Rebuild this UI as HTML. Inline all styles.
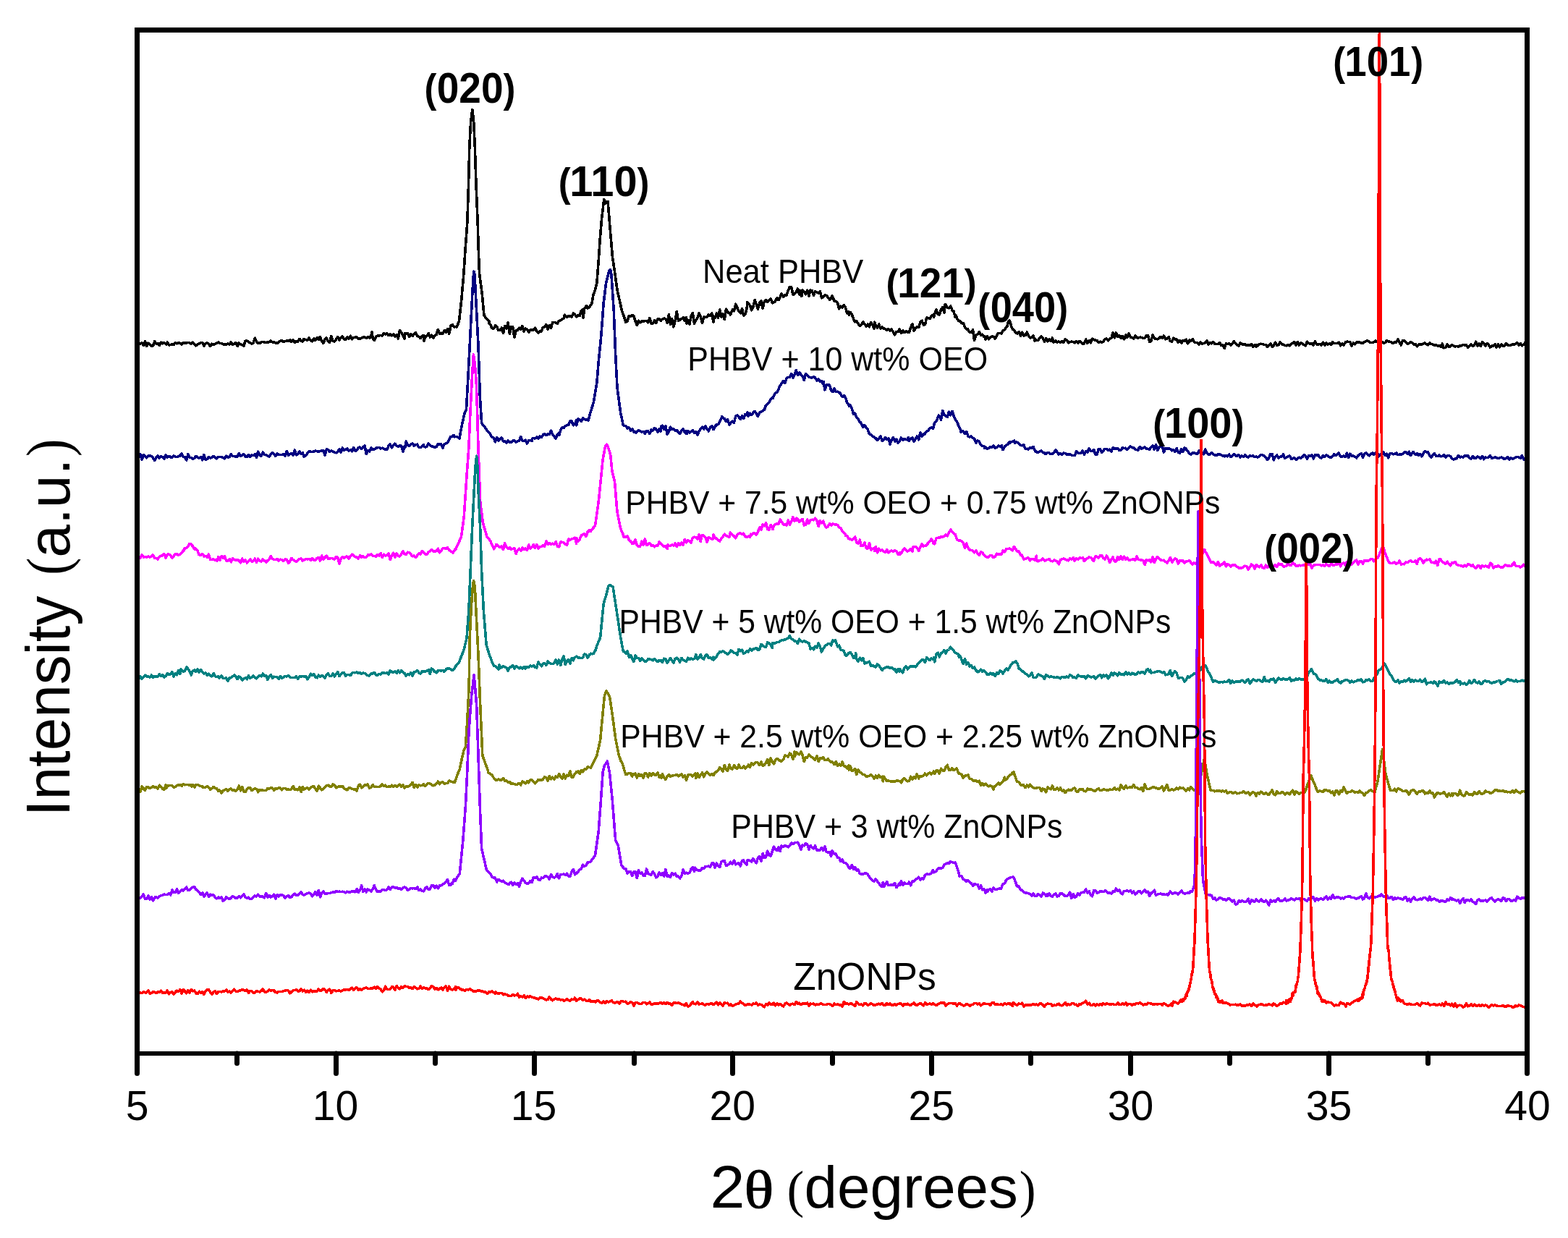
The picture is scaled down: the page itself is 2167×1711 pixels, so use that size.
<!DOCTYPE html>
<html><head><meta charset="utf-8"><title>XRD patterns</title>
<style>
html,body{margin:0;padding:0;background:#fff;}
body{width:2167px;height:1711px;overflow:hidden;}
svg{display:block;}
text{font-family:"Liberation Sans",Arial,sans-serif;}
.s{font-family:"Liberation Serif","Times New Roman",serif;}
.b{font-weight:bold;}
</style></head><body>
<svg width="2167" height="1711" viewBox="0 0 2167 1711">
<rect x="0" y="0" width="2167" height="1711" fill="#fff"/>

<g fill="none" stroke-width="3.6" stroke-linejoin="round" stroke-linecap="butt" shape-rendering="crispEdges">
<path stroke="#000000" d="M189.5,478.8 L191.7,474.9 L193.9,475.0 L196.1,474.0 L198.3,477.3 L200.5,471.8 L202.7,478.6 L204.9,474.3 L207.1,476.1 L209.3,478.4 L211.5,477.9 L213.7,471.9 L215.9,474.8 L218.1,474.6 L220.3,477.2 L222.5,473.3 L224.7,474.8 L226.9,473.6 L229.1,475.1 L230.0,476.0 L231.3,473.1 L233.5,476.9 L235.7,476.5 L237.9,475.9 L240.1,476.5 L242.3,473.8 L244.5,474.8 L246.7,473.4 L248.9,474.5 L251.1,475.9 L253.3,473.8 L255.5,474.3 L257.7,473.8 L259.9,473.6 L262.1,473.9 L264.3,475.0 L266.5,473.1 L268.7,475.4 L270.9,477.8 L273.1,476.3 L275.3,474.7 L277.5,473.5 L279.7,473.7 L281.9,477.9 L284.1,475.1 L286.3,473.9 L288.5,475.3 L290.7,478.6 L292.9,475.2 L295.1,476.0 L297.3,475.5 L299.5,474.4 L301.7,473.1 L303.0,474.4 L306.1,474.5 L308.3,475.8 L310.5,476.2 L312.7,476.3 L314.9,475.1 L317.1,476.1 L319.3,473.1 L321.5,476.6 L323.7,475.2 L325.9,473.7 L328.1,478.6 L330.3,473.9 L332.5,476.0 L334.7,476.6 L336.9,477.8 L339.1,471.2 L341.3,471.0 L343.5,472.6 L345.7,473.8 L347.9,475.1 L350.1,473.9 L352.3,467.2 L354.5,472.6 L356.7,474.7 L358.9,473.5 L360.0,474.4 L361.1,472.5 L363.3,472.5 L365.5,473.1 L367.7,473.5 L369.9,473.0 L372.1,472.7 L374.3,471.1 L376.5,473.0 L378.7,472.4 L380.9,474.3 L383.1,474.4 L385.3,472.3 L387.5,471.1 L389.7,470.4 L391.9,472.5 L394.1,471.7 L396.3,470.7 L398.5,471.4 L400.7,470.0 L402.9,472.6 L405.1,470.1 L407.3,473.5 L409.5,471.7 L411.7,472.0 L413.9,468.4 L416.1,470.9 L418.3,472.0 L420.0,468.4 L422.7,469.7 L424.9,470.2 L427.1,467.1 L429.3,470.6 L431.5,471.7 L433.7,467.9 L435.9,470.4 L438.1,466.6 L440.3,469.3 L442.5,465.7 L444.7,471.7 L446.9,474.4 L449.1,468.9 L451.3,467.1 L453.5,471.7 L455.7,473.2 L457.9,464.3 L460.1,471.3 L462.3,472.1 L464.5,469.0 L466.7,465.4 L468.9,470.1 L470.0,467.6 L471.1,466.5 L473.3,464.9 L475.5,468.9 L477.7,469.3 L479.9,465.8 L482.1,468.4 L484.3,464.3 L486.5,468.8 L488.7,466.8 L490.9,466.1 L493.1,466.2 L495.3,468.4 L497.5,468.0 L499.7,467.3 L501.9,466.2 L504.1,465.9 L506.3,467.1 L508.5,466.0 L510.7,466.9 L512.9,464.3 L514.0,458.8 L515.1,467.6 L517.3,470.3 L519.5,465.7 L521.7,464.1 L523.9,463.8 L526.1,463.6 L528.3,463.8 L530.5,460.6 L532.7,462.0 L534.9,460.5 L537.1,463.7 L539.3,462.0 L541.5,463.9 L543.7,461.9 L545.9,464.9 L548.1,462.6 L550.3,467.9 L552.5,456.4 L554.7,459.7 L556.9,463.8 L559.1,468.1 L560.0,460.3 L561.3,461.3 L563.5,460.9 L565.7,465.5 L567.9,461.4 L570.1,464.4 L572.3,462.0 L574.5,459.9 L576.7,464.4 L578.9,465.2 L581.1,467.6 L583.3,464.3 L585.5,463.4 L586.0,471.3 L587.7,465.2 L589.9,464.7 L592.1,460.5 L594.3,466.0 L596.5,463.4 L598.7,467.0 L600.9,464.3 L603.1,462.5 L605.3,455.6 L607.5,461.3 L609.7,460.3 L610.0,461.3 L611.9,461.3 L614.1,456.5 L616.3,459.3 L618.5,454.5 L620.7,461.3 L622.9,450.6 L625.1,448.5 L627.3,451.6 L628.0,452.1 L629.5,451.4 L631.0,452.2 L633.9,445.5 L634.5,443.9 L636.1,429.5 L637.9,413.0 L640.5,382.6 L640.9,378.0 L642.7,350.6 L643.2,343.0 L644.9,320.1 L645.8,307.9 L647.1,267.7 L647.5,255.3 L648.8,202.6 L650.5,170.0 L651.5,162.1 L652.8,151.8 L654.5,165.0 L655.9,194.2 L656.3,202.6 L658.0,255.3 L660.2,307.9 L661.2,343.0 L662.5,378.0 L664.7,394.4 L666.0,404.0 L669.0,435.9 L671.3,439.2 L673.5,441.5 L675.7,443.4 L676.0,447.1 L677.9,449.2 L680.0,453.6 L682.3,454.1 L684.5,449.7 L686.7,451.6 L688.9,456.6 L691.1,456.5 L693.3,453.2 L695.5,460.5 L697.7,450.7 L699.9,453.9 L700.0,454.3 L702.1,446.2 L704.3,461.2 L706.5,451.4 L708.7,451.8 L710.9,466.2 L713.1,457.0 L715.3,456.5 L717.5,453.3 L719.7,455.5 L721.9,450.4 L724.1,457.8 L726.3,454.1 L728.5,455.7 L730.7,459.1 L732.9,456.2 L735.1,456.2 L737.3,456.2 L739.5,453.1 L741.7,458.1 L743.9,460.3 L746.1,457.6 L748.3,457.9 L750.0,453.1 L752.7,451.6 L754.9,448.6 L757.1,455.3 L759.3,449.7 L761.5,453.6 L763.7,445.6 L765.9,445.5 L768.1,446.0 L770.3,447.5 L772.5,443.5 L774.7,442.8 L776.9,441.0 L779.1,440.3 L780.4,435.1 L783.5,438.4 L785.7,436.8 L787.9,436.7 L790.1,438.3 L792.3,433.0 L794.5,434.8 L796.7,437.8 L798.9,435.6 L801.1,436.5 L803.3,429.5 L805.5,427.7 L806.0,438.9 L807.7,427.0 L809.9,423.1 L811.0,423.0 L812.1,426.1 L814.3,424.8 L816.5,421.4 L817.9,419.5 L820.0,407.2 L822.1,401.8 L823.1,398.0 L824.8,391.3 L826.9,365.0 L829.0,333.3 L831.6,301.7 L834.1,281.1 L834.8,275.3 L836.3,278.5 L837.5,281.0 L838.5,279.9 L840.0,278.4 L841.1,291.0 L842.9,313.0 L843.7,322.6 L845.1,339.2 L846.4,354.5 L849.5,375.5 L851.7,391.4 L853.2,401.8 L856.1,414.4 L856.9,417.7 L858.3,424.6 L859.6,429.9 L862.7,438.4 L864.8,445.3 L867.1,443.6 L869.3,436.7 L871.5,437.3 L873.7,435.4 L875.9,437.0 L878.0,443.5 L880.3,449.6 L882.5,443.1 L884.7,445.8 L886.9,444.1 L889.1,444.4 L891.3,443.6 L893.5,443.5 L895.7,445.7 L897.9,439.5 L900.1,447.6 L902.3,447.1 L904.5,442.8 L906.7,446.4 L908.9,440.6 L911.1,441.1 L913.3,443.6 L914.0,442.3 L915.5,441.2 L917.7,440.1 L919.9,440.4 L922.1,445.9 L924.3,434.7 L926.5,448.1 L928.7,440.8 L930.9,451.8 L933.1,443.4 L935.3,430.4 L937.5,443.3 L939.7,442.1 L941.9,440.7 L944.1,438.6 L946.3,443.6 L948.5,438.4 L949.0,447.2 L950.7,442.1 L952.9,448.2 L955.1,436.6 L957.3,432.7 L959.5,447.3 L961.7,442.8 L963.9,439.5 L966.1,433.1 L968.3,437.4 L970.5,446.4 L972.7,438.2 L974.9,438.4 L977.1,438.1 L979.3,435.0 L981.5,436.5 L983.7,433.1 L985.9,445.1 L986.0,436.6 L988.1,439.5 L990.3,432.9 L992.5,439.2 L994.7,428.0 L996.9,438.2 L999.1,433.7 L1001.3,441.4 L1003.5,427.1 L1005.7,431.8 L1007.9,432.2 L1009.4,435.1 L1012.3,428.1 L1014.5,429.8 L1016.7,420.2 L1018.9,425.3 L1021.1,430.3 L1023.3,432.7 L1025.5,426.6 L1027.7,436.0 L1029.9,434.0 L1032.1,426.6 L1032.8,417.3 L1034.3,419.1 L1036.5,422.2 L1038.7,428.7 L1040.9,424.6 L1043.1,414.3 L1045.3,420.7 L1047.5,427.1 L1049.7,418.4 L1051.9,416.0 L1054.1,426.1 L1056.0,417.5 L1058.5,414.7 L1060.7,417.3 L1062.9,415.3 L1065.1,412.9 L1067.3,418.8 L1069.5,417.8 L1071.7,416.1 L1073.9,411.6 L1076.1,414.7 L1078.3,410.6 L1079.7,406.0 L1082.7,410.3 L1084.9,407.5 L1087.1,408.1 L1089.0,402.3 L1091.5,396.4 L1093.7,396.7 L1095.9,407.4 L1098.1,406.0 L1100.3,403.9 L1102.5,399.0 L1104.7,407.0 L1106.9,401.5 L1107.8,409.3 L1109.1,401.1 L1111.3,403.2 L1113.5,406.7 L1115.7,401.2 L1117.9,409.1 L1120.1,401.0 L1122.3,401.6 L1124.5,408.3 L1126.5,403.0 L1128.9,403.6 L1131.1,405.1 L1133.3,402.8 L1135.5,411.7 L1137.7,410.4 L1139.9,408.0 L1142.1,408.3 L1144.3,411.0 L1146.5,414.1 L1148.7,412.3 L1150.0,409.0 L1153.1,416.0 L1155.3,416.4 L1157.5,418.8 L1159.7,426.8 L1161.6,423.2 L1164.1,425.1 L1166.3,421.6 L1168.5,425.2 L1170.7,433.0 L1172.9,431.0 L1173.4,435.4 L1175.1,431.4 L1177.3,434.3 L1179.5,440.6 L1181.7,444.8 L1183.9,443.8 L1186.1,447.3 L1188.3,450.4 L1189.7,449.6 L1192.7,445.0 L1194.9,447.8 L1197.1,451.0 L1199.3,448.2 L1201.5,451.7 L1203.7,445.8 L1205.9,448.9 L1208.1,454.0 L1208.5,445.3 L1210.3,449.2 L1212.5,453.1 L1214.7,448.1 L1216.9,454.2 L1219.1,452.0 L1221.3,454.0 L1223.5,454.5 L1225.7,456.4 L1227.9,454.5 L1230.1,456.9 L1232.0,455.2 L1234.5,459.0 L1236.7,462.7 L1238.9,458.5 L1241.1,458.6 L1243.3,455.0 L1245.5,460.6 L1247.7,456.9 L1248.0,456.8 L1249.9,459.6 L1252.1,457.6 L1254.3,459.2 L1256.5,459.1 L1258.7,452.3 L1260.9,447.6 L1263.1,456.9 L1265.3,453.6 L1267.0,452.1 L1269.7,452.4 L1271.9,445.2 L1274.1,443.3 L1276.3,449.0 L1278.5,448.4 L1280.7,439.1 L1282.9,439.6 L1285.1,440.5 L1287.3,436.8 L1289.5,435.2 L1290.4,438.4 L1291.7,434.1 L1293.9,427.7 L1296.1,434.4 L1298.3,434.9 L1300.5,428.1 L1302.7,424.4 L1304.9,432.0 L1306.0,420.5 L1307.1,421.5 L1309.3,425.1 L1311.5,425.9 L1312.7,425.2 L1313.7,422.9 L1315.9,428.6 L1318.1,430.5 L1320.3,438.7 L1321.0,436.1 L1322.5,439.7 L1324.7,443.7 L1326.9,443.8 L1329.1,446.7 L1331.3,446.7 L1333.5,451.8 L1335.7,455.1 L1337.3,454.5 L1340.1,459.6 L1342.3,459.5 L1344.5,455.7 L1346.5,470.3 L1348.9,463.0 L1351.1,462.3 L1353.3,458.7 L1355.5,463.1 L1357.7,462.2 L1359.9,465.5 L1360.7,465.0 L1362.1,468.9 L1364.3,464.8 L1366.5,468.9 L1368.7,466.0 L1370.9,465.0 L1373.1,465.3 L1375.3,467.9 L1376.0,467.4 L1377.5,463.4 L1379.7,460.4 L1381.9,460.4 L1384.1,461.1 L1386.3,456.5 L1388.5,455.9 L1390.7,451.9 L1391.8,451.6 L1392.9,446.6 L1395.0,442.5 L1397.3,449.3 L1398.0,451.9 L1399.5,455.4 L1401.7,456.3 L1403.9,460.4 L1404.7,459.4 L1406.1,460.8 L1408.3,458.8 L1410.5,464.4 L1412.7,459.3 L1414.9,464.2 L1417.1,461.9 L1417.7,463.2 L1419.3,458.9 L1421.5,464.3 L1423.7,466.9 L1425.9,466.5 L1428.1,464.2 L1430.3,471.2 L1430.6,468.8 L1432.5,470.5 L1434.7,470.3 L1436.9,467.2 L1439.1,464.7 L1441.3,467.2 L1443.5,472.2 L1445.7,467.5 L1447.9,471.8 L1450.1,469.0 L1452.3,471.4 L1454.5,467.0 L1456.0,473.4 L1458.9,471.1 L1461.1,473.1 L1463.3,471.9 L1465.5,473.2 L1467.7,471.5 L1469.9,473.4 L1472.1,469.0 L1474.3,470.0 L1476.5,473.7 L1478.7,472.4 L1480.9,472.2 L1483.1,472.4 L1485.3,473.8 L1487.5,471.9 L1489.7,474.1 L1491.9,471.6 L1494.1,472.7 L1496.3,475.4 L1498.0,475.6 L1500.7,469.0 L1502.9,474.5 L1505.1,470.6 L1507.3,473.7 L1509.5,468.1 L1511.7,469.3 L1513.9,470.2 L1516.1,470.5 L1518.3,473.5 L1520.5,472.1 L1522.7,473.2 L1524.9,472.1 L1527.1,468.5 L1529.3,468.2 L1531.5,470.8 L1533.7,468.2 L1535.9,467.4 L1538.1,459.6 L1540.3,466.8 L1542.5,460.0 L1544.7,465.2 L1546.9,463.6 L1549.1,467.4 L1550.0,464.3 L1551.3,464.7 L1553.5,468.9 L1555.7,463.0 L1557.9,466.5 L1560.1,461.0 L1562.3,466.0 L1564.5,466.9 L1566.7,468.1 L1568.9,463.8 L1571.1,466.8 L1573.3,466.9 L1575.5,466.1 L1577.7,466.6 L1579.9,467.4 L1582.1,467.3 L1584.3,463.9 L1586.5,463.5 L1588.7,472.6 L1590.9,471.2 L1593.1,463.2 L1595.3,467.7 L1597.0,468.2 L1599.7,468.8 L1601.9,467.6 L1604.1,465.4 L1606.3,467.4 L1608.5,464.0 L1610.7,468.7 L1612.9,468.1 L1615.1,465.6 L1617.3,471.5 L1619.5,472.2 L1621.7,467.2 L1623.9,469.0 L1626.1,468.6 L1628.3,473.1 L1630.5,470.7 L1632.7,474.1 L1634.9,470.4 L1637.1,471.7 L1639.3,469.2 L1641.5,474.7 L1643.7,471.8 L1644.0,469.6 L1645.9,471.5 L1648.1,468.4 L1650.3,472.9 L1652.5,473.4 L1654.7,473.9 L1656.9,476.3 L1659.1,473.1 L1661.3,475.3 L1663.5,474.5 L1665.7,473.8 L1667.9,470.7 L1670.1,476.1 L1672.3,473.8 L1674.5,474.9 L1676.7,472.8 L1678.9,475.6 L1681.1,475.5 L1683.3,475.5 L1685.5,473.5 L1687.7,477.6 L1689.9,477.6 L1690.0,477.2 L1692.1,481.7 L1694.3,475.1 L1696.5,475.5 L1698.7,474.5 L1700.9,477.0 L1703.1,475.1 L1705.3,471.7 L1707.5,474.3 L1709.7,476.5 L1711.9,478.2 L1714.1,473.9 L1716.3,475.5 L1718.5,476.4 L1720.7,475.4 L1722.9,477.6 L1725.1,476.8 L1727.3,477.3 L1729.5,475.6 L1731.7,479.5 L1733.9,476.9 L1736.1,479.2 L1737.0,476.3 L1738.3,478.0 L1740.5,475.8 L1742.7,475.3 L1744.9,475.6 L1747.1,476.7 L1749.3,476.4 L1751.5,479.3 L1753.7,477.5 L1755.9,474.8 L1758.1,479.5 L1760.3,477.6 L1762.5,473.3 L1764.7,477.3 L1766.9,476.8 L1769.1,472.7 L1771.3,475.7 L1773.5,476.2 L1775.7,477.5 L1777.9,477.8 L1780.1,476.3 L1782.3,477.8 L1784.5,475.8 L1786.0,474.5 L1788.9,472.5 L1791.1,476.8 L1793.3,472.5 L1795.5,477.0 L1797.7,473.9 L1799.9,475.1 L1802.1,476.6 L1804.3,477.7 L1806.5,472.3 L1808.7,474.2 L1810.9,475.6 L1813.1,474.5 L1815.3,476.9 L1817.5,471.9 L1819.7,476.0 L1821.9,476.1 L1824.1,475.4 L1826.3,477.1 L1828.5,473.1 L1830.7,477.1 L1832.9,473.9 L1835.1,476.3 L1837.3,474.5 L1839.5,476.4 L1840.0,476.3 L1841.7,472.4 L1843.9,474.6 L1846.1,474.6 L1848.3,474.2 L1850.5,473.2 L1852.7,477.7 L1854.9,474.7 L1857.1,477.0 L1859.3,473.1 L1861.5,472.2 L1863.7,472.4 L1865.9,472.9 L1868.1,478.1 L1870.3,474.1 L1872.5,475.7 L1874.7,473.1 L1876.9,472.8 L1879.1,473.2 L1881.3,473.9 L1883.5,474.7 L1885.7,472.8 L1887.9,471.6 L1890.1,470.8 L1892.3,472.6 L1894.5,473.7 L1896.7,473.4 L1898.9,472.4 L1901.1,471.2 L1903.3,472.5 L1905.5,473.3 L1907.7,472.0 L1909.9,472.2 L1912.1,474.4 L1914.3,473.6 L1916.5,470.8 L1918.7,472.0 L1920.9,472.3 L1923.1,472.9 L1925.0,474.4 L1927.5,472.9 L1929.7,473.0 L1931.9,469.0 L1934.1,473.4 L1936.3,476.9 L1938.5,471.0 L1940.7,470.9 L1942.9,472.6 L1945.1,475.1 L1947.3,474.4 L1949.5,472.8 L1951.7,473.8 L1953.9,475.9 L1956.1,475.5 L1958.3,478.7 L1960.5,476.4 L1962.7,475.5 L1964.9,476.2 L1967.1,474.7 L1969.3,473.9 L1971.5,476.0 L1973.7,476.8 L1975.9,473.8 L1978.1,475.5 L1980.3,476.0 L1982.5,477.3 L1984.7,476.6 L1986.9,478.0 L1989.1,477.6 L1991.3,479.4 L1993.5,475.0 L1995.0,480.8 L1997.9,480.4 L2000.1,476.2 L2002.3,479.0 L2004.5,478.9 L2006.7,476.6 L2008.9,478.1 L2011.1,479.1 L2013.3,478.3 L2015.5,479.5 L2017.7,477.8 L2019.9,477.8 L2022.1,476.3 L2024.3,477.0 L2026.5,476.8 L2028.7,480.4 L2030.9,477.9 L2033.1,475.8 L2035.3,478.1 L2037.5,477.1 L2039.7,472.2 L2041.9,478.1 L2044.1,474.7 L2046.3,478.3 L2048.5,472.9 L2050.7,474.7 L2052.9,478.0 L2055.1,474.6 L2057.3,476.4 L2059.5,480.0 L2061.7,478.1 L2063.9,478.3 L2065.0,476.9 L2066.1,475.5 L2068.3,480.1 L2070.5,475.7 L2072.7,479.7 L2074.9,475.8 L2077.1,478.4 L2079.3,478.2 L2081.5,474.5 L2083.7,476.8 L2085.9,477.4 L2088.1,477.2 L2090.3,475.6 L2092.5,476.3 L2094.7,475.0 L2096.9,473.6 L2099.1,477.2 L2101.3,474.5 L2103.5,477.7 L2105.7,476.2 L2107.9,473.6 L2110.1,474.7 L2110.5,474.5"/>
<path stroke="#000080" d="M189.5,631.2 L191.7,631.9 L193.9,628.0 L196.1,635.0 L198.3,628.7 L200.5,630.4 L202.7,632.9 L204.9,629.7 L207.1,630.0 L209.3,630.3 L211.5,633.0 L213.7,636.3 L215.9,632.1 L218.1,629.9 L220.3,633.0 L222.5,630.9 L224.7,632.0 L226.9,634.2 L229.1,628.7 L231.3,632.0 L233.5,630.4 L235.7,631.7 L237.9,632.5 L240.1,630.2 L242.3,631.4 L244.5,631.6 L246.7,630.8 L248.9,629.8 L251.1,626.7 L253.3,631.7 L255.5,631.5 L257.7,636.1 L259.9,627.5 L262.1,632.2 L264.3,632.7 L266.5,634.5 L268.7,632.9 L270.9,630.4 L273.1,632.0 L275.3,633.0 L277.5,631.4 L279.7,635.8 L281.9,628.5 L284.1,635.2 L286.3,634.7 L288.5,631.4 L290.7,633.1 L292.9,632.1 L295.1,630.5 L297.3,632.2 L299.5,633.9 L301.7,631.3 L303.0,631.3 L306.1,631.7 L308.3,632.5 L310.5,634.0 L312.7,630.3 L314.9,632.3 L317.1,631.7 L319.3,627.7 L321.5,630.3 L323.7,630.7 L325.9,630.8 L328.1,631.3 L330.3,626.7 L332.5,630.6 L334.7,629.1 L336.9,627.5 L339.1,631.2 L341.3,631.4 L343.5,628.7 L345.7,631.4 L347.9,629.0 L350.1,629.7 L352.3,627.4 L354.5,632.4 L356.7,624.1 L358.9,629.0 L361.1,630.4 L363.3,625.0 L365.5,628.4 L367.7,628.5 L369.9,630.2 L372.1,630.9 L374.3,627.6 L376.5,625.5 L378.7,627.6 L380.9,630.4 L383.1,627.0 L385.3,628.5 L387.5,628.4 L389.7,628.7 L391.9,627.8 L394.1,630.1 L396.3,623.8 L398.5,629.2 L400.7,627.7 L402.9,626.4 L405.1,629.1 L407.3,621.9 L409.5,628.9 L411.7,627.2 L413.9,624.0 L416.1,627.1 L418.3,625.5 L420.0,631.2 L422.7,629.5 L424.9,626.6 L427.1,624.1 L429.3,624.2 L431.5,624.6 L433.7,624.0 L435.9,623.1 L438.1,623.6 L440.3,624.1 L442.5,623.5 L444.7,623.0 L446.9,622.4 L449.1,629.4 L451.3,620.9 L453.5,621.7 L455.7,624.6 L457.9,622.9 L460.1,624.3 L462.3,625.0 L464.5,625.8 L466.7,624.6 L468.9,620.8 L471.1,625.1 L473.3,618.9 L475.5,622.2 L477.7,621.3 L479.9,619.9 L482.1,623.3 L484.3,621.5 L486.5,623.9 L488.7,618.4 L490.9,623.3 L493.1,622.4 L495.3,618.5 L497.5,618.0 L499.7,620.4 L501.9,617.4 L504.1,616.1 L506.3,627.6 L508.5,622.5 L510.7,624.1 L512.9,619.1 L514.0,621.5 L515.1,621.4 L517.3,620.9 L519.5,619.3 L521.7,618.6 L523.9,618.5 L526.1,619.9 L528.3,619.2 L530.5,620.5 L532.7,621.0 L534.9,621.3 L537.1,616.2 L539.3,614.1 L541.5,618.8 L543.7,615.3 L545.9,613.3 L548.1,616.1 L550.3,617.3 L552.5,615.9 L554.7,616.2 L556.9,624.2 L559.1,616.4 L560.0,617.9 L561.3,609.9 L563.5,615.5 L565.7,616.5 L567.9,614.0 L570.1,613.0 L572.3,616.1 L574.5,614.6 L576.7,614.1 L578.9,618.2 L581.1,618.7 L583.3,616.5 L585.5,614.9 L586.0,617.2 L587.7,617.9 L589.9,617.4 L592.1,612.7 L594.3,615.2 L596.5,616.8 L598.7,617.4 L600.9,618.2 L603.1,617.7 L605.3,613.4 L607.5,614.4 L609.7,614.0 L611.8,619.0 L614.1,614.2 L616.3,612.8 L618.5,611.6 L620.7,607.2 L622.9,603.6 L625.1,602.9 L627.3,601.4 L628.0,603.8 L629.5,603.7 L631.7,603.5 L633.9,605.3 L635.0,606.1 L636.1,599.6 L637.5,591.8 L640.5,578.0 L642.2,570.8 L644.5,566.0 L647.1,517.3 L648.0,500.5 L649.3,475.0 L651.5,431.9 L651.6,430.0 L653.7,389.2 L654.0,383.4 L655.0,375.2 L656.0,380.0 L657.4,406.8 L659.8,453.7 L661.0,477.0 L662.5,522.9 L663.3,547.4 L664.7,570.2 L665.6,584.8 L666.9,586.5 L669.1,589.4 L671.3,591.9 L672.7,594.5 L675.7,597.8 L677.9,600.6 L680.1,604.6 L682.0,604.9 L684.5,610.7 L686.7,604.6 L688.9,608.9 L691.1,606.3 L693.3,604.9 L695.5,609.9 L697.7,609.8 L698.4,610.2 L699.9,611.8 L702.1,608.9 L704.3,611.1 L706.5,611.3 L708.7,609.1 L710.9,609.1 L713.1,610.9 L715.3,609.6 L717.5,609.7 L719.7,603.4 L721.9,609.1 L724.1,609.7 L726.3,608.3 L728.5,613.0 L730.7,608.4 L732.9,608.4 L735.1,609.7 L736.0,606.0 L737.3,605.6 L739.5,606.0 L741.7,604.1 L743.9,606.0 L746.1,603.2 L748.3,604.5 L750.5,600.9 L752.7,599.8 L754.9,601.7 L757.1,600.1 L759.3,600.6 L761.5,595.3 L763.7,600.3 L765.9,603.3 L768.1,606.2 L770.3,600.7 L772.5,598.5 L773.0,601.2 L774.7,594.3 L776.9,590.7 L779.1,591.6 L780.4,589.5 L783.5,587.9 L785.7,587.3 L787.9,581.9 L790.1,582.2 L792.3,587.8 L794.5,586.3 L796.7,580.6 L796.8,587.8 L798.9,579.2 L801.1,580.2 L803.3,582.4 L805.5,577.6 L807.7,579.4 L809.9,580.4 L812.1,579.9 L813.0,581.3 L814.3,576.1 L816.5,568.5 L818.7,561.4 L820.2,556.7 L823.1,539.4 L824.9,528.6 L827.2,500.5 L829.7,475.5 L830.7,465.4 L831.9,449.4 L834.1,419.8 L834.2,418.5 L836.3,401.7 L837.7,390.4 L840.7,378.8 L842.0,374.0 L843.6,372.9 L845.0,380.0 L846.0,395.0 L847.3,414.9 L848.3,430.3 L849.5,460.8 L850.6,488.8 L851.7,510.3 L853.0,535.6 L856.1,558.8 L857.7,570.8 L860.5,583.8 L861.2,587.4 L862.7,588.2 L864.9,588.7 L867.1,592.2 L869.3,590.9 L871.5,595.4 L873.7,592.9 L875.9,596.9 L878.1,596.6 L878.7,597.9 L880.3,596.2 L882.5,595.0 L884.7,595.9 L886.9,597.1 L889.1,596.3 L891.3,599.2 L893.5,595.7 L895.7,596.0 L897.9,599.7 L900.1,593.9 L902.3,594.9 L904.5,591.5 L906.7,593.0 L908.9,597.1 L911.1,593.1 L913.3,596.0 L914.0,589.0 L915.5,588.2 L917.7,593.2 L919.9,588.9 L922.1,600.3 L924.3,596.7 L926.5,590.1 L928.7,593.4 L930.9,592.5 L933.1,595.5 L935.3,594.5 L937.5,597.5 L939.7,599.2 L941.9,595.0 L944.1,592.7 L946.3,597.7 L948.5,596.0 L949.0,599.6 L950.7,595.8 L952.9,598.1 L955.1,596.4 L957.3,594.7 L959.5,598.2 L961.7,596.4 L963.9,601.0 L966.1,596.1 L968.3,593.1 L970.5,590.1 L972.7,593.0 L974.9,588.8 L977.1,592.9 L979.3,595.9 L981.5,590.4 L983.7,589.1 L985.9,591.4 L986.0,593.6 L988.1,589.6 L990.3,587.0 L992.5,586.5 L994.7,582.6 L996.9,578.3 L997.7,575.6 L999.1,577.3 L1001.3,578.5 L1003.5,582.4 L1005.7,579.8 L1007.9,587.2 L1009.4,585.0 L1012.3,582.2 L1014.5,584.1 L1016.7,575.2 L1018.9,574.2 L1021.1,576.5 L1023.3,579.3 L1025.5,574.6 L1027.7,578.6 L1029.9,572.3 L1032.1,573.7 L1032.8,569.9 L1034.3,575.1 L1036.5,571.2 L1038.7,573.5 L1040.9,570.3 L1043.1,568.5 L1045.3,571.2 L1047.5,575.4 L1049.7,570.2 L1051.6,569.4 L1054.1,567.8 L1056.3,566.5 L1058.5,560.2 L1060.7,557.9 L1062.9,556.0 L1065.1,552.0 L1067.3,549.9 L1068.0,550.6 L1069.5,546.4 L1071.7,543.3 L1073.9,542.0 L1076.1,537.4 L1078.3,532.7 L1080.5,529.6 L1082.7,526.5 L1084.9,529.6 L1087.1,522.8 L1089.0,521.5 L1091.5,521.5 L1093.7,516.5 L1095.9,521.9 L1098.1,517.5 L1100.3,511.8 L1102.5,518.3 L1104.7,515.0 L1106.9,517.5 L1109.1,519.7 L1111.3,525.4 L1113.5,516.6 L1114.8,517.5 L1117.9,521.0 L1120.1,521.8 L1122.3,522.0 L1124.5,520.4 L1126.7,522.1 L1128.9,525.9 L1131.1,524.1 L1133.3,527.0 L1135.5,526.5 L1137.7,531.0 L1138.2,527.3 L1139.9,538.8 L1142.1,532.1 L1144.3,531.6 L1146.5,532.3 L1148.7,539.8 L1150.9,541.7 L1153.1,536.7 L1155.3,541.6 L1157.5,541.2 L1159.7,542.3 L1161.6,544.0 L1164.1,548.6 L1166.3,546.6 L1168.5,549.1 L1170.7,556.6 L1172.9,559.2 L1173.4,561.1 L1175.1,560.1 L1177.3,564.7 L1179.5,572.0 L1181.7,571.3 L1183.9,577.3 L1186.1,579.1 L1188.3,583.2 L1189.7,584.1 L1192.7,590.6 L1194.9,587.4 L1197.1,591.0 L1199.3,593.8 L1201.5,599.9 L1203.7,600.4 L1205.9,603.3 L1208.1,604.2 L1208.5,605.0 L1210.3,605.8 L1212.5,608.1 L1214.7,606.4 L1216.9,602.7 L1219.1,609.5 L1221.3,607.4 L1223.5,604.9 L1225.7,607.6 L1227.9,606.1 L1230.1,613.9 L1232.0,608.5 L1234.5,604.5 L1236.7,610.0 L1238.9,607.3 L1241.1,612.4 L1243.3,609.6 L1245.5,605.0 L1247.7,608.1 L1249.9,606.7 L1252.1,607.6 L1254.3,607.8 L1255.3,604.7 L1256.5,609.3 L1258.7,605.9 L1260.9,605.0 L1263.1,610.4 L1265.3,606.7 L1267.5,603.0 L1269.7,607.9 L1271.9,597.8 L1274.1,603.2 L1276.3,600.0 L1278.5,600.0 L1278.7,598.3 L1280.7,596.7 L1282.9,594.7 L1285.1,592.2 L1287.3,591.1 L1289.5,592.2 L1291.7,584.2 L1293.9,582.6 L1296.1,577.1 L1297.5,574.0 L1300.5,580.3 L1302.7,567.6 L1304.9,573.5 L1307.1,574.8 L1309.3,576.3 L1311.5,569.1 L1313.7,573.8 L1315.9,568.5 L1316.2,568.7 L1318.1,574.8 L1320.3,579.4 L1322.5,583.0 L1324.7,588.1 L1326.9,592.5 L1328.0,596.9 L1329.1,595.5 L1331.3,596.2 L1333.5,599.6 L1335.7,596.4 L1337.9,602.8 L1340.1,604.2 L1342.3,603.1 L1344.5,605.1 L1346.7,606.6 L1348.9,612.3 L1349.0,610.0 L1351.1,608.7 L1353.3,610.5 L1355.5,614.4 L1357.7,616.3 L1359.9,616.7 L1360.7,619.2 L1362.1,618.2 L1364.3,620.2 L1366.5,619.2 L1368.7,617.8 L1370.9,618.1 L1373.1,615.7 L1375.3,619.4 L1377.5,618.1 L1379.7,616.1 L1381.9,617.1 L1384.1,615.6 L1386.0,621.7 L1388.5,616.6 L1390.7,615.5 L1392.9,614.1 L1395.1,610.8 L1396.0,612.0 L1397.3,610.6 L1399.5,610.4 L1401.7,609.1 L1402.4,612.1 L1403.9,611.1 L1406.1,611.4 L1408.3,613.4 L1410.0,615.1 L1412.7,615.9 L1414.9,614.8 L1417.1,620.6 L1419.3,620.2 L1421.0,620.8 L1423.7,618.5 L1425.9,619.1 L1428.1,617.4 L1430.3,622.9 L1432.5,624.9 L1434.7,625.2 L1436.9,624.3 L1439.1,622.7 L1441.3,625.3 L1443.5,625.8 L1444.5,627.4 L1445.7,627.5 L1447.9,625.5 L1450.1,626.0 L1452.3,627.6 L1454.5,627.1 L1456.7,625.9 L1458.9,621.9 L1461.1,625.0 L1463.3,628.1 L1465.5,626.7 L1467.7,628.4 L1469.9,625.8 L1472.1,626.7 L1474.3,628.2 L1476.5,628.1 L1478.7,627.5 L1480.9,629.0 L1483.1,629.5 L1485.3,629.7 L1487.5,623.7 L1489.7,626.0 L1491.4,626.4 L1494.1,625.8 L1496.3,622.9 L1498.5,628.4 L1500.7,623.4 L1502.9,625.3 L1505.1,619.8 L1507.3,623.3 L1509.5,623.5 L1511.7,621.7 L1513.9,628.2 L1516.1,627.9 L1518.3,620.7 L1520.5,620.4 L1522.7,625.5 L1524.9,622.7 L1526.5,620.5 L1529.3,620.5 L1531.5,622.5 L1533.7,621.3 L1535.9,624.1 L1538.1,618.7 L1540.3,620.1 L1542.5,619.7 L1544.7,619.8 L1546.9,622.5 L1549.1,621.9 L1551.3,618.6 L1553.5,619.7 L1555.7,619.3 L1557.9,621.6 L1560.1,619.2 L1562.3,617.0 L1564.5,618.6 L1566.7,619.1 L1568.9,621.1 L1571.1,621.8 L1573.3,621.8 L1573.4,619.7 L1575.5,617.9 L1577.7,620.4 L1579.9,618.8 L1582.1,618.0 L1584.3,620.1 L1586.5,620.4 L1588.7,621.5 L1590.9,617.8 L1593.1,616.2 L1595.3,621.1 L1597.5,614.7 L1599.7,622.3 L1601.9,617.9 L1604.1,616.8 L1606.3,616.6 L1608.5,625.0 L1610.7,619.7 L1612.9,620.6 L1615.1,619.8 L1617.3,620.5 L1619.5,622.9 L1620.2,621.4 L1621.7,621.4 L1623.9,624.4 L1626.1,619.5 L1628.3,625.1 L1630.5,626.5 L1632.7,620.8 L1634.9,624.6 L1637.1,618.7 L1639.3,620.7 L1641.5,623.7 L1643.7,626.9 L1645.9,627.8 L1648.1,626.0 L1650.3,625.5 L1652.5,626.8 L1654.7,626.8 L1655.3,627.0 L1656.9,623.1 L1659.1,625.9 L1661.3,625.0 L1663.5,627.8 L1664.7,624.7 L1665.7,621.0 L1667.9,626.1 L1670.1,628.1 L1672.0,627.9 L1674.5,625.8 L1676.7,627.7 L1678.9,628.8 L1681.1,629.5 L1683.3,628.0 L1685.5,627.7 L1687.7,629.0 L1689.9,629.7 L1692.1,630.8 L1694.3,629.3 L1696.5,630.7 L1698.7,628.1 L1700.9,631.6 L1703.1,630.0 L1705.3,627.6 L1707.5,629.8 L1709.7,630.6 L1711.9,628.5 L1713.9,631.9 L1716.3,630.0 L1718.5,631.5 L1720.7,628.8 L1722.9,631.3 L1725.1,632.1 L1727.3,629.9 L1729.5,630.5 L1731.7,629.8 L1733.9,631.5 L1736.1,631.0 L1738.3,631.9 L1740.5,630.9 L1742.7,628.6 L1744.9,628.6 L1747.1,630.3 L1749.3,632.0 L1751.5,635.4 L1753.7,632.9 L1755.9,627.3 L1758.1,627.5 L1760.3,635.8 L1762.5,631.4 L1764.7,629.1 L1766.9,633.1 L1769.1,631.5 L1771.3,630.7 L1773.5,627.9 L1775.7,633.4 L1777.9,631.8 L1780.1,631.2 L1782.3,629.9 L1784.5,634.1 L1786.0,634.1 L1788.9,632.7 L1791.1,635.4 L1793.3,633.6 L1795.5,632.2 L1797.7,633.1 L1799.9,631.7 L1802.1,628.6 L1804.3,630.1 L1806.5,634.4 L1808.7,629.4 L1810.9,630.1 L1813.1,628.7 L1815.3,634.1 L1817.5,628.4 L1819.7,628.9 L1821.9,629.1 L1824.1,632.5 L1826.3,632.8 L1828.5,629.5 L1830.7,631.6 L1832.9,628.8 L1835.1,630.4 L1837.3,631.8 L1839.5,632.1 L1841.7,630.1 L1843.9,627.6 L1846.1,629.5 L1848.3,627.5 L1850.0,625.8 L1852.7,631.0 L1854.9,630.9 L1857.1,630.1 L1859.3,631.6 L1861.5,626.3 L1863.7,632.2 L1865.9,627.3 L1868.1,630.0 L1870.3,630.1 L1872.5,631.2 L1874.7,632.9 L1876.9,629.6 L1879.1,628.1 L1881.3,626.6 L1883.5,632.1 L1885.7,627.0 L1887.9,625.9 L1890.1,628.0 L1892.3,629.7 L1894.5,627.7 L1896.7,626.1 L1898.9,628.4 L1901.1,625.6 L1903.3,624.9 L1905.5,630.7 L1907.7,628.2 L1909.9,628.1 L1912.1,624.7 L1914.3,629.6 L1916.5,627.1 L1918.7,632.7 L1920.9,626.8 L1923.1,626.3 L1925.3,627.9 L1927.5,627.4 L1929.7,626.0 L1931.9,628.6 L1934.1,628.1 L1936.3,628.4 L1938.5,627.4 L1940.7,625.1 L1942.9,625.0 L1945.1,627.5 L1947.3,624.3 L1949.5,629.6 L1951.7,626.1 L1953.0,624.4 L1956.1,628.4 L1958.3,626.5 L1960.5,629.2 L1962.7,627.5 L1964.9,630.8 L1967.1,626.7 L1969.3,623.4 L1971.5,625.0 L1973.7,625.0 L1975.9,629.6 L1978.1,632.2 L1980.3,628.5 L1982.5,626.6 L1984.7,630.7 L1986.9,630.5 L1989.1,629.1 L1991.3,630.9 L1993.5,630.3 L1995.7,628.4 L1997.9,632.1 L2000.0,630.1 L2002.3,629.3 L2004.5,630.7 L2006.7,634.1 L2008.9,634.9 L2011.1,633.9 L2013.3,633.7 L2015.5,629.5 L2017.7,632.1 L2019.9,631.2 L2022.1,631.9 L2024.3,629.5 L2026.5,630.1 L2028.7,629.8 L2030.9,633.3 L2033.1,633.9 L2035.3,630.7 L2037.5,633.1 L2039.7,633.3 L2041.9,630.8 L2044.1,632.2 L2046.3,633.8 L2048.5,630.4 L2050.7,634.7 L2052.9,632.1 L2055.1,632.6 L2057.3,632.1 L2059.5,629.9 L2061.7,633.3 L2063.9,632.7 L2066.1,632.0 L2068.3,632.5 L2070.5,633.7 L2072.7,632.7 L2074.9,632.1 L2077.1,633.2 L2079.3,634.5 L2081.5,633.3 L2083.7,631.8 L2085.9,634.8 L2088.1,632.9 L2090.3,634.5 L2092.5,633.2 L2094.7,631.9 L2096.9,631.3 L2099.1,632.1 L2101.3,633.3 L2103.5,629.7 L2105.7,634.6 L2107.9,635.9 L2110.1,636.2 L2110.5,632.0"/>
<path stroke="#FF00FF" d="M189.5,774.7 L191.7,771.8 L193.9,770.9 L196.1,766.7 L198.3,769.9 L200.5,769.6 L202.7,770.1 L204.9,768.8 L207.1,769.9 L209.3,768.9 L211.5,767.0 L213.7,771.5 L215.9,771.4 L218.1,773.0 L220.3,769.3 L222.5,768.3 L224.7,767.8 L226.9,765.6 L229.1,770.8 L231.3,766.3 L233.5,766.0 L235.7,767.9 L237.9,771.4 L240.1,768.6 L242.0,765.9 L244.5,765.9 L246.7,767.4 L248.9,766.1 L250.0,765.3 L251.1,763.9 L253.3,761.0 L254.0,761.0 L255.5,757.4 L257.7,757.4 L259.9,755.6 L262.0,751.3 L264.3,752.4 L266.5,755.1 L268.7,759.1 L270.0,757.9 L273.1,761.2 L275.0,766.7 L277.5,767.1 L279.7,765.4 L281.9,768.8 L282.0,768.9 L284.1,768.6 L286.3,770.5 L288.5,766.1 L290.7,773.5 L292.9,773.3 L295.1,773.2 L297.3,774.0 L299.5,774.2 L300.0,775.0 L301.7,769.8 L303.9,774.0 L306.1,768.6 L308.3,771.3 L310.5,768.7 L312.7,774.9 L314.9,775.6 L317.1,772.6 L319.3,776.7 L321.5,771.9 L323.7,773.7 L325.9,773.9 L328.1,773.9 L330.3,774.7 L332.5,777.8 L334.7,772.0 L336.9,776.0 L339.1,774.0 L341.3,778.0 L343.5,775.6 L345.7,772.9 L347.9,776.1 L350.0,775.5 L352.3,772.2 L354.5,777.6 L356.7,772.2 L358.9,775.3 L361.1,776.0 L363.3,773.1 L365.5,775.0 L367.7,777.0 L369.9,774.6 L372.1,772.8 L374.3,768.7 L376.5,772.5 L378.7,773.3 L380.9,773.4 L383.1,772.4 L385.3,775.0 L387.5,773.1 L389.7,774.0 L391.9,775.5 L394.1,772.4 L396.3,773.5 L398.5,778.3 L400.7,775.7 L402.9,771.4 L405.1,773.7 L407.3,775.0 L409.5,776.3 L411.7,774.1 L413.9,772.7 L416.1,772.2 L418.3,774.9 L420.0,774.2 L422.7,772.4 L424.9,772.9 L427.1,772.4 L429.3,774.5 L431.5,771.5 L433.7,773.8 L435.9,774.4 L438.1,771.3 L440.3,770.7 L442.5,775.0 L444.7,768.0 L446.9,772.9 L449.1,770.4 L451.3,768.2 L453.5,772.1 L455.7,772.1 L457.9,771.3 L460.1,771.9 L462.3,773.1 L464.5,769.5 L466.7,770.6 L468.9,778.9 L471.1,772.4 L473.3,769.5 L475.5,771.6 L477.7,769.3 L479.9,769.2 L482.1,771.8 L484.3,768.8 L486.5,766.3 L488.7,767.7 L490.9,769.7 L493.1,769.7 L495.3,771.9 L497.5,767.6 L499.7,770.6 L500.0,769.9 L501.9,768.6 L504.1,770.6 L506.3,769.8 L508.5,766.9 L510.7,767.3 L512.9,765.9 L515.1,768.6 L517.3,768.4 L519.5,769.2 L521.7,766.7 L523.9,768.1 L526.1,764.6 L528.3,770.2 L530.5,766.2 L532.7,768.0 L534.9,767.2 L537.1,764.9 L539.3,773.4 L541.5,767.4 L543.7,764.3 L545.9,770.4 L548.1,765.0 L550.3,768.0 L552.5,769.0 L554.7,765.7 L556.9,761.9 L559.1,765.8 L561.3,766.6 L563.5,763.2 L565.7,764.0 L567.9,766.3 L570.1,768.8 L572.3,767.9 L574.5,770.2 L576.7,767.8 L578.9,765.1 L581.1,765.9 L583.3,761.8 L585.5,764.0 L586.0,763.8 L587.7,766.0 L589.9,766.2 L592.1,762.9 L594.3,762.1 L596.5,759.4 L598.7,761.8 L600.9,761.9 L603.1,761.7 L605.3,758.3 L607.5,763.8 L609.7,761.4 L611.8,757.8 L614.1,757.4 L616.3,758.4 L618.5,756.8 L620.7,760.2 L622.9,761.8 L625.1,762.9 L625.8,764.2 L627.3,761.4 L629.5,758.9 L630.0,758.9 L631.7,754.5 L633.9,749.9 L636.1,745.2 L637.5,741.9 L640.5,719.6 L641.3,713.6 L642.7,692.4 L644.9,659.0 L645.0,657.5 L647.1,629.4 L647.8,620.0 L649.3,584.7 L649.8,573.0 L651.5,539.6 L652.5,520.0 L653.7,501.1 L654.4,490.0 L655.9,500.7 L656.5,505.0 L658.1,526.2 L658.2,527.5 L659.7,573.0 L661.0,620.0 L662.5,660.2 L663.8,695.0 L666.9,718.5 L667.5,723.0 L669.1,728.6 L671.3,736.1 L673.0,742.1 L675.7,744.7 L677.9,747.8 L678.8,750.7 L680.1,752.9 L682.3,757.9 L682.5,758.7 L684.5,755.8 L686.0,752.4 L688.9,755.3 L691.1,756.4 L693.3,755.1 L695.5,759.5 L697.7,750.9 L699.9,755.8 L702.1,758.5 L704.3,756.7 L706.5,759.2 L707.8,758.6 L710.9,758.1 L713.1,765.5 L715.3,760.3 L717.5,758.4 L719.7,761.2 L721.9,757.2 L724.1,759.6 L726.3,757.9 L728.5,760.6 L730.7,753.0 L732.9,757.9 L735.1,756.0 L737.3,752.6 L739.5,757.6 L741.7,752.6 L743.9,758.3 L746.1,755.3 L748.3,755.4 L750.0,753.6 L752.7,755.2 L754.9,748.0 L757.1,752.5 L759.3,750.4 L761.5,752.4 L763.7,751.2 L765.9,752.6 L768.1,748.6 L770.3,755.0 L772.5,755.9 L774.7,749.2 L776.9,749.3 L779.1,749.8 L781.3,752.0 L783.5,753.3 L785.7,745.0 L787.9,746.1 L790.1,744.7 L792.3,744.2 L794.5,743.1 L796.7,751.5 L796.8,743.8 L798.9,748.5 L801.1,745.8 L803.3,739.9 L805.5,738.5 L807.7,738.1 L809.9,741.5 L812.1,735.3 L814.3,732.8 L815.5,734.6 L816.5,734.2 L818.7,730.9 L820.9,728.6 L822.5,726.5 L825.3,707.0 L827.2,693.6 L829.6,670.3 L831.9,647.2 L833.1,634.9 L834.1,629.8 L836.3,617.9 L836.6,616.3 L838.5,614.1 L839.0,614.5 L840.7,619.2 L842.9,626.0 L843.6,628.2 L845.1,642.6 L846.0,651.4 L847.3,656.7 L849.5,665.6 L851.7,692.1 L853.0,707.7 L856.1,723.2 L857.7,730.7 L860.5,736.9 L862.3,742.4 L864.9,742.3 L867.1,740.8 L869.3,746.3 L871.5,747.9 L873.7,751.5 L874.0,749.3 L875.9,751.3 L878.1,745.7 L880.3,753.7 L882.5,755.7 L884.7,755.1 L886.9,748.2 L889.1,753.0 L891.3,744.9 L893.5,753.3 L895.7,752.6 L897.9,750.5 L900.1,754.0 L902.3,753.7 L904.5,755.8 L906.7,754.0 L908.9,754.4 L911.1,749.2 L913.3,751.3 L915.5,753.2 L917.7,755.3 L919.9,754.7 L922.1,758.5 L923.0,752.9 L924.3,754.1 L926.5,754.7 L928.7,753.0 L930.9,754.2 L933.1,751.0 L935.3,755.3 L937.5,750.5 L939.7,753.5 L941.9,750.1 L944.1,753.3 L946.3,745.5 L948.5,749.7 L950.7,746.8 L952.9,747.9 L955.1,749.8 L957.3,743.2 L959.5,742.2 L961.7,742.5 L963.9,745.1 L966.1,739.0 L968.3,748.5 L970.0,739.5 L972.7,740.3 L974.9,742.7 L977.1,749.3 L979.3,742.7 L981.5,743.4 L983.7,744.9 L985.9,744.7 L986.0,738.6 L988.1,743.7 L990.3,744.3 L992.5,746.3 L994.7,748.1 L996.9,743.9 L999.1,741.7 L1001.3,738.3 L1003.5,740.4 L1005.7,741.6 L1007.9,742.2 L1009.4,736.0 L1012.3,739.1 L1014.5,740.9 L1016.7,743.9 L1018.9,739.5 L1021.1,737.3 L1023.3,737.0 L1025.5,738.0 L1027.7,737.3 L1029.9,741.5 L1032.1,742.3 L1034.3,741.2 L1036.5,742.5 L1037.5,738.3 L1038.7,739.9 L1040.9,737.0 L1043.1,737.0 L1045.3,739.1 L1047.5,734.8 L1049.7,729.0 L1051.9,732.2 L1054.1,724.7 L1056.3,726.8 L1058.5,722.7 L1060.7,731.5 L1062.9,732.4 L1065.1,725.5 L1067.3,728.6 L1068.0,731.7 L1069.5,726.2 L1071.7,724.5 L1073.9,723.9 L1076.1,724.0 L1078.3,718.1 L1080.5,721.3 L1082.7,725.0 L1084.9,725.1 L1087.1,726.3 L1089.3,719.1 L1091.5,725.3 L1093.7,721.1 L1095.9,714.4 L1098.1,720.3 L1100.3,716.3 L1100.8,718.9 L1102.5,717.2 L1104.7,721.6 L1106.9,718.9 L1109.1,717.5 L1111.3,726.0 L1113.5,725.3 L1115.7,718.0 L1117.9,723.6 L1120.1,718.7 L1122.3,718.3 L1124.5,718.9 L1126.5,716.3 L1128.9,719.7 L1131.1,727.5 L1133.3,719.6 L1135.5,722.9 L1137.7,720.1 L1139.9,726.2 L1142.1,729.0 L1144.3,727.6 L1146.5,723.7 L1148.7,726.0 L1150.9,724.1 L1153.1,724.7 L1155.3,724.8 L1157.5,725.4 L1159.7,729.0 L1161.6,729.8 L1164.1,733.8 L1166.3,736.5 L1168.5,738.7 L1168.7,740.6 L1170.7,740.4 L1172.9,744.8 L1175.1,744.9 L1177.3,746.3 L1179.5,744.6 L1181.7,742.1 L1183.9,749.7 L1186.1,751.3 L1188.3,745.9 L1189.7,754.2 L1192.7,754.2 L1194.9,750.2 L1197.1,757.7 L1199.3,757.9 L1201.5,750.7 L1203.7,760.0 L1205.9,758.7 L1208.1,757.8 L1208.5,761.3 L1210.3,755.5 L1212.5,763.8 L1214.7,758.3 L1216.9,761.2 L1219.1,759.9 L1221.3,762.1 L1223.5,763.4 L1225.7,759.8 L1227.9,763.7 L1230.1,761.6 L1232.3,761.0 L1234.5,762.3 L1236.7,760.8 L1238.9,761.6 L1241.1,765.8 L1243.3,763.6 L1243.6,766.5 L1245.5,764.5 L1247.7,760.7 L1249.9,758.2 L1252.1,760.4 L1254.3,762.0 L1256.5,760.8 L1258.7,758.5 L1260.9,762.0 L1262.3,755.6 L1265.3,755.4 L1267.5,757.5 L1269.7,761.3 L1271.9,756.3 L1274.1,752.2 L1276.3,754.9 L1278.5,754.2 L1280.7,753.9 L1282.9,749.9 L1285.1,748.0 L1287.3,745.0 L1289.5,749.0 L1290.4,751.4 L1291.7,751.8 L1293.9,744.1 L1296.1,743.3 L1298.3,743.2 L1300.5,741.6 L1302.7,742.1 L1304.9,740.9 L1307.1,739.2 L1309.3,740.7 L1311.5,735.8 L1313.7,733.0 L1313.9,731.9 L1315.9,735.1 L1318.1,737.5 L1320.3,738.5 L1322.5,745.4 L1324.7,747.0 L1325.6,747.0 L1326.9,747.2 L1329.1,747.7 L1331.3,750.1 L1333.5,757.3 L1335.7,751.0 L1337.9,757.2 L1340.1,760.0 L1342.3,760.5 L1344.3,761.2 L1346.7,763.9 L1348.9,760.7 L1351.1,765.0 L1353.3,767.5 L1355.5,762.8 L1357.7,764.0 L1359.9,766.6 L1362.1,769.1 L1364.3,770.4 L1366.5,769.7 L1368.7,767.6 L1370.9,767.4 L1372.4,770.5 L1375.3,769.3 L1377.5,765.3 L1379.7,766.5 L1381.9,765.9 L1384.1,766.2 L1386.0,761.2 L1388.5,763.0 L1390.7,758.3 L1392.9,758.6 L1395.1,758.1 L1397.3,759.3 L1399.5,760.8 L1401.2,755.4 L1403.9,759.0 L1406.1,762.4 L1408.3,761.9 L1410.5,767.4 L1411.8,766.4 L1414.9,772.9 L1417.1,772.5 L1419.3,771.2 L1421.5,771.3 L1423.7,774.7 L1425.9,772.5 L1428.1,772.9 L1430.3,774.4 L1432.5,768.1 L1432.8,774.8 L1434.7,775.9 L1436.9,774.6 L1439.1,774.1 L1441.3,771.9 L1443.5,775.0 L1445.7,774.0 L1447.9,773.6 L1450.1,772.4 L1452.3,775.2 L1454.5,775.9 L1456.7,774.1 L1458.9,775.1 L1461.1,775.9 L1463.3,779.8 L1465.5,773.5 L1467.7,772.6 L1469.9,772.1 L1472.1,772.9 L1474.3,773.9 L1476.5,774.7 L1478.7,771.8 L1480.9,772.9 L1483.1,770.5 L1485.3,775.1 L1487.5,771.6 L1489.7,773.1 L1491.9,770.8 L1494.1,771.6 L1496.3,770.8 L1498.5,775.6 L1500.7,772.8 L1502.9,771.7 L1505.1,770.0 L1507.3,770.6 L1509.5,773.0 L1511.7,775.2 L1513.9,768.7 L1516.1,769.7 L1518.3,771.2 L1520.5,767.8 L1522.7,768.0 L1524.9,771.4 L1527.1,772.9 L1529.3,768.0 L1531.5,771.6 L1533.7,777.2 L1535.9,773.1 L1538.0,770.1 L1540.3,775.9 L1542.5,775.8 L1544.7,769.7 L1546.9,773.5 L1549.1,769.2 L1551.3,773.5 L1553.5,769.2 L1555.7,773.5 L1557.9,770.8 L1560.1,774.4 L1562.3,773.7 L1564.5,773.2 L1566.7,772.5 L1568.9,774.7 L1571.1,769.0 L1573.3,773.6 L1575.5,773.7 L1577.7,774.1 L1579.9,774.7 L1582.1,780.6 L1584.3,773.5 L1586.5,775.0 L1588.7,773.8 L1590.9,776.7 L1593.1,769.6 L1595.3,777.2 L1597.5,772.5 L1599.7,769.5 L1601.9,772.0 L1604.1,773.9 L1606.3,774.7 L1608.5,774.3 L1610.7,776.2 L1612.9,778.2 L1615.1,774.6 L1617.3,770.7 L1619.5,775.9 L1620.0,777.0 L1621.7,774.4 L1623.9,771.8 L1626.1,773.1 L1628.3,779.1 L1630.5,774.9 L1632.7,775.1 L1634.9,775.0 L1637.1,778.1 L1639.3,775.9 L1641.5,775.6 L1643.7,774.7 L1645.9,777.5 L1648.1,779.9 L1650.3,778.1 L1652.5,779.2 L1653.0,778.7 L1654.7,775.9 L1656.9,772.5 L1659.1,768.9 L1661.3,766.3 L1663.5,762.3 L1664.7,759.5 L1665.7,762.0 L1667.9,765.9 L1670.1,770.4 L1672.3,774.3 L1674.0,777.6 L1676.7,776.7 L1678.9,778.9 L1681.1,781.0 L1683.3,776.5 L1685.5,782.2 L1687.7,780.2 L1689.9,779.7 L1692.1,777.2 L1694.3,782.8 L1696.5,779.5 L1698.7,780.7 L1700.9,783.0 L1703.1,780.6 L1705.3,781.0 L1707.5,781.1 L1709.7,783.3 L1711.9,785.0 L1714.0,785.0 L1716.3,784.9 L1718.5,783.5 L1720.7,782.2 L1722.9,782.6 L1725.1,787.3 L1727.3,784.0 L1729.5,780.0 L1731.7,781.5 L1733.9,786.2 L1736.1,780.7 L1738.3,782.3 L1740.5,783.7 L1742.7,780.9 L1744.9,784.7 L1747.1,785.7 L1749.3,781.1 L1751.5,784.5 L1753.7,780.7 L1755.9,780.4 L1758.1,782.5 L1760.3,782.4 L1762.5,780.8 L1764.7,783.3 L1766.9,779.0 L1769.1,780.0 L1771.3,779.5 L1773.5,782.7 L1775.7,782.7 L1777.9,782.3 L1780.1,778.7 L1782.3,781.1 L1784.0,781.6 L1786.7,777.9 L1788.9,779.3 L1791.1,782.0 L1793.3,782.1 L1795.5,781.3 L1797.7,781.8 L1799.9,781.4 L1802.1,781.1 L1804.3,780.6 L1806.5,779.2 L1808.7,780.4 L1810.9,780.1 L1813.1,785.0 L1815.3,781.3 L1817.5,780.8 L1819.7,780.4 L1821.9,780.6 L1824.1,780.3 L1826.3,781.8 L1828.5,780.7 L1830.7,782.3 L1832.9,779.5 L1835.1,781.4 L1837.3,782.4 L1839.5,778.7 L1841.7,781.1 L1843.9,781.2 L1846.1,780.2 L1848.3,779.9 L1850.5,777.5 L1852.7,782.8 L1854.5,779.1 L1857.1,778.2 L1859.3,781.2 L1861.5,776.4 L1863.7,781.1 L1865.9,779.8 L1868.1,779.8 L1870.3,778.1 L1872.5,775.7 L1874.7,774.1 L1876.9,780.1 L1879.1,776.1 L1881.3,775.7 L1883.5,779.3 L1885.7,774.8 L1887.9,775.2 L1890.1,774.8 L1892.0,774.7 L1894.5,772.4 L1896.7,772.7 L1898.9,775.8 L1901.1,773.1 L1903.3,770.6 L1904.0,771.0 L1905.5,768.4 L1907.7,762.5 L1909.9,756.8 L1910.7,755.7 L1912.1,757.4 L1914.3,764.8 L1916.5,769.7 L1918.7,775.5 L1920.0,777.7 L1923.1,778.7 L1925.3,777.7 L1927.5,777.0 L1929.7,779.3 L1931.9,778.0 L1934.1,775.2 L1936.3,780.0 L1938.5,779.5 L1940.7,779.8 L1942.9,777.1 L1945.1,777.5 L1947.3,775.9 L1949.5,774.6 L1951.7,776.5 L1953.9,776.5 L1956.1,774.8 L1958.3,779.4 L1960.5,772.6 L1962.7,771.9 L1964.9,774.1 L1967.1,777.8 L1969.3,774.7 L1971.5,774.4 L1971.6,773.3 L1973.7,773.7 L1975.9,773.0 L1978.1,777.7 L1980.3,777.2 L1982.5,778.1 L1984.7,775.2 L1986.9,781.5 L1989.1,772.3 L1991.3,773.4 L1993.5,776.9 L1995.7,778.0 L1997.9,779.4 L2000.1,776.3 L2002.3,779.6 L2004.5,781.9 L2006.7,777.4 L2008.9,777.9 L2011.1,776.4 L2013.3,780.2 L2015.5,781.5 L2017.7,781.6 L2019.9,782.0 L2022.1,783.3 L2024.3,781.2 L2026.5,782.9 L2028.7,779.8 L2030.9,780.3 L2033.1,782.4 L2035.3,780.8 L2037.5,783.5 L2039.7,785.2 L2041.9,783.7 L2042.0,781.7 L2044.1,781.6 L2046.3,785.3 L2048.5,781.4 L2050.7,782.9 L2052.9,782.2 L2055.1,782.7 L2057.3,784.5 L2059.5,778.3 L2061.7,779.8 L2063.9,784.9 L2066.1,782.6 L2068.3,783.5 L2070.5,782.0 L2072.7,783.4 L2074.9,784.2 L2077.1,784.3 L2079.3,781.3 L2081.5,781.1 L2083.7,782.4 L2085.9,782.0 L2088.1,782.5 L2090.3,780.2 L2092.5,777.2 L2094.7,782.1 L2096.9,782.6 L2099.1,782.3 L2101.3,784.1 L2103.5,782.6 L2105.7,780.3 L2107.9,782.7 L2110.1,780.7 L2110.5,783.1"/>
<path stroke="#008080" d="M189.5,937.6 L191.7,938.2 L193.9,935.1 L196.1,938.1 L198.3,935.7 L200.5,933.3 L202.7,934.8 L204.9,934.7 L207.1,936.2 L209.3,933.1 L211.5,936.3 L213.7,934.6 L215.9,935.4 L218.1,935.0 L220.3,931.8 L222.5,934.5 L224.7,932.4 L226.9,936.3 L229.1,934.5 L230.0,933.1 L231.3,930.8 L233.5,932.2 L235.7,931.9 L237.9,928.6 L240.1,934.9 L242.3,930.7 L244.5,932.8 L246.7,926.5 L248.9,931.7 L250.0,925.2 L251.1,926.5 L253.3,928.7 L255.5,927.4 L257.7,922.0 L259.9,924.4 L262.1,928.3 L264.3,933.0 L266.0,928.0 L268.7,926.0 L270.9,928.7 L273.1,925.1 L275.3,929.1 L277.5,925.7 L279.7,928.9 L280.0,928.7 L281.9,931.2 L284.1,929.8 L286.3,933.4 L288.5,931.4 L290.7,934.1 L292.9,934.8 L295.1,930.5 L297.3,934.8 L299.5,935.5 L301.7,934.8 L303.0,936.9 L306.1,933.9 L308.3,937.6 L310.5,937.5 L312.7,937.0 L314.9,941.2 L317.1,937.1 L319.3,936.5 L321.5,935.0 L323.7,933.1 L325.9,934.5 L328.1,938.7 L330.3,935.0 L332.5,936.5 L334.7,940.0 L336.9,938.4 L339.1,936.6 L341.3,938.7 L343.5,933.7 L345.7,937.5 L347.9,936.0 L350.1,934.2 L352.3,936.8 L354.5,937.7 L356.7,935.2 L358.9,933.7 L361.1,934.8 L363.3,931.2 L365.5,934.6 L367.7,933.6 L369.9,939.6 L372.1,934.6 L374.3,932.7 L376.5,937.3 L378.7,935.2 L380.9,935.6 L383.1,935.9 L385.3,938.3 L387.5,934.7 L389.7,937.3 L391.9,936.4 L394.1,934.4 L396.3,935.0 L398.5,933.5 L400.7,935.8 L402.9,936.7 L405.1,936.5 L407.3,936.4 L409.5,934.9 L411.7,938.2 L413.9,934.7 L416.1,935.1 L418.3,934.4 L420.0,935.2 L422.7,934.4 L424.9,938.7 L427.1,935.5 L429.3,931.3 L431.5,933.6 L433.7,931.6 L435.9,936.0 L438.1,936.8 L440.3,933.1 L442.5,935.1 L444.7,933.4 L446.9,934.5 L449.1,937.0 L451.3,932.8 L453.5,930.9 L455.7,934.7 L457.9,934.2 L460.1,931.2 L462.3,935.0 L464.5,931.5 L466.7,928.8 L468.9,934.7 L471.1,931.7 L473.3,930.0 L475.5,929.9 L477.7,934.5 L479.9,932.4 L482.1,932.6 L484.3,933.6 L486.5,930.4 L488.7,929.4 L490.9,929.8 L493.1,929.2 L495.3,930.7 L497.5,929.4 L499.7,931.2 L501.9,930.0 L504.1,930.7 L506.3,932.1 L508.0,933.6 L510.7,933.8 L512.9,930.8 L515.1,931.0 L517.3,929.4 L519.5,932.5 L521.7,933.6 L523.9,931.5 L526.1,931.9 L528.3,929.6 L530.5,929.9 L532.7,930.5 L534.9,929.3 L537.1,931.9 L539.3,926.9 L541.5,928.5 L543.7,929.7 L545.9,927.7 L548.1,930.6 L550.3,926.6 L552.5,929.8 L554.7,926.7 L556.9,929.3 L559.1,930.6 L561.3,934.1 L563.5,931.7 L565.7,932.8 L567.9,929.5 L570.1,933.8 L572.3,928.8 L574.5,928.7 L576.7,926.5 L578.9,929.6 L581.1,931.3 L583.3,927.7 L585.5,928.2 L586.0,928.0 L587.7,928.2 L589.9,927.4 L592.1,925.6 L594.3,931.2 L596.5,924.0 L598.7,926.0 L600.9,928.5 L603.1,929.8 L605.3,927.0 L607.5,926.6 L609.7,927.2 L611.9,926.3 L614.0,928.5 L616.3,925.1 L618.5,923.5 L620.7,924.0 L622.9,924.7 L625.0,926.6 L627.3,924.7 L629.5,921.8 L630.0,920.5 L631.7,918.4 L633.9,916.6 L635.6,912.3 L638.3,905.3 L640.5,899.8 L641.3,897.0 L642.7,891.3 L644.9,882.4 L645.0,882.0 L647.1,854.1 L647.8,844.8 L649.3,809.8 L650.2,788.8 L651.5,757.0 L652.5,732.5 L653.7,708.3 L655.3,676.0 L657.0,645.0 L658.1,634.7 L658.6,630.0 L660.0,645.0 L661.0,676.0 L662.5,706.3 L663.8,732.5 L665.6,788.8 L666.9,814.8 L668.4,844.8 L671.3,880.6 L672.2,891.7 L673.5,895.8 L675.7,902.9 L676.9,906.8 L677.9,908.7 L680.1,914.9 L682.3,920.0 L682.5,920.0 L684.5,920.5 L686.7,923.0 L688.9,925.3 L690.0,918.7 L691.1,923.3 L693.3,922.1 L695.5,921.0 L697.7,921.9 L699.9,922.9 L702.1,926.8 L704.3,922.6 L706.5,921.5 L708.7,919.6 L710.9,924.1 L713.1,920.6 L715.3,922.0 L717.5,923.8 L719.7,922.3 L721.9,924.3 L724.1,921.7 L726.3,924.0 L726.5,922.0 L728.5,922.2 L730.7,922.2 L732.9,920.1 L735.1,921.2 L737.3,919.5 L739.5,922.3 L741.7,923.0 L743.9,914.9 L746.1,918.1 L748.3,920.8 L750.5,917.3 L752.7,916.4 L754.9,919.4 L757.1,914.1 L759.3,916.4 L761.5,917.3 L763.7,917.5 L765.9,916.4 L768.1,911.7 L770.3,917.9 L772.5,912.1 L773.4,913.6 L774.7,919.3 L776.9,911.8 L779.1,907.0 L781.3,918.6 L783.5,913.8 L785.7,911.6 L787.9,917.0 L790.1,909.4 L792.3,912.7 L794.5,908.6 L796.7,907.3 L798.9,909.0 L801.1,909.1 L803.3,909.6 L805.5,908.8 L807.7,903.9 L809.9,904.5 L812.1,909.2 L814.3,905.2 L816.5,903.1 L818.7,903.8 L820.2,903.5 L823.1,898.4 L824.9,892.3 L827.5,886.2 L829.6,881.0 L831.9,857.7 L834.1,835.1 L834.2,834.2 L836.3,827.2 L837.7,822.6 L840.7,810.3 L841.3,809.6 L842.9,808.4 L843.6,808.5 L845.1,809.8 L847.1,810.9 L849.5,827.0 L850.6,834.2 L851.7,841.4 L853.9,855.5 L854.2,857.6 L856.1,870.3 L857.7,880.9 L860.5,896.2 L861.2,899.9 L862.7,900.8 L864.9,903.2 L867.1,900.0 L869.3,908.1 L871.5,907.4 L871.7,905.4 L873.7,910.1 L875.9,914.5 L878.1,906.0 L880.3,909.2 L882.5,909.5 L884.7,913.3 L886.9,910.2 L889.1,912.1 L891.3,914.6 L893.5,913.5 L895.7,910.8 L897.9,911.0 L900.1,911.6 L902.3,912.9 L904.5,910.7 L906.7,912.9 L908.9,914.7 L911.1,912.4 L913.3,912.6 L914.0,914.5 L915.5,915.6 L917.7,910.2 L919.9,910.8 L922.1,916.2 L924.3,912.7 L926.5,909.8 L928.7,912.6 L930.9,916.0 L933.1,910.3 L935.3,909.2 L937.5,910.8 L939.7,915.2 L941.9,909.3 L944.1,912.1 L946.3,913.0 L948.5,914.5 L950.7,909.2 L952.9,911.5 L955.1,910.0 L957.3,911.4 L959.5,910.1 L960.7,909.4 L961.7,904.7 L963.9,911.0 L966.1,909.3 L968.3,904.6 L970.5,909.9 L972.7,911.0 L974.9,906.0 L977.1,904.6 L979.3,909.2 L981.5,908.8 L983.7,911.0 L985.9,908.3 L986.0,912.1 L988.1,909.9 L990.3,907.2 L992.5,903.5 L994.7,900.7 L995.4,901.6 L996.9,900.9 L999.1,899.7 L1001.3,901.4 L1003.5,902.6 L1005.7,904.2 L1007.9,902.4 L1010.1,899.2 L1012.3,900.2 L1014.5,902.3 L1016.7,902.8 L1018.9,904.8 L1021.0,897.4 L1023.3,899.8 L1025.5,898.1 L1027.7,903.4 L1029.9,902.0 L1032.1,900.2 L1034.3,900.9 L1036.5,896.6 L1038.7,899.0 L1040.9,897.1 L1043.1,896.6 L1045.3,895.5 L1047.0,897.9 L1049.7,897.7 L1051.9,890.3 L1054.1,892.3 L1056.3,893.5 L1058.5,894.4 L1060.7,887.7 L1062.9,889.2 L1065.1,890.5 L1067.3,895.4 L1068.0,888.3 L1069.5,888.9 L1071.7,888.9 L1073.9,887.7 L1076.1,887.4 L1078.3,885.9 L1080.5,884.5 L1082.7,884.8 L1084.9,883.8 L1087.1,883.1 L1089.0,882.4 L1091.5,878.6 L1093.7,883.0 L1095.9,883.5 L1098.1,886.0 L1100.3,886.3 L1102.5,889.4 L1104.7,883.2 L1106.9,885.7 L1109.1,887.3 L1111.3,885.7 L1113.5,887.2 L1114.8,887.3 L1117.9,888.9 L1120.1,897.1 L1122.3,895.7 L1124.5,897.7 L1126.5,893.3 L1128.9,895.2 L1131.1,889.2 L1133.3,894.0 L1135.5,901.0 L1137.7,897.0 L1139.9,893.2 L1142.1,891.5 L1144.3,889.5 L1146.5,889.8 L1148.7,891.9 L1150.9,884.8 L1153.1,886.1 L1154.6,884.6 L1157.5,893.7 L1159.7,891.9 L1161.9,898.1 L1164.0,898.5 L1166.3,899.7 L1168.5,905.9 L1170.7,905.8 L1172.9,902.4 L1175.1,901.5 L1177.3,904.5 L1179.5,909.1 L1181.7,908.8 L1182.7,902.8 L1183.9,911.1 L1186.1,914.0 L1188.3,909.3 L1190.5,912.7 L1192.7,909.4 L1194.9,917.3 L1197.1,916.1 L1199.3,915.5 L1201.5,914.3 L1203.7,920.4 L1205.9,919.3 L1208.1,921.2 L1208.5,920.7 L1210.3,922.1 L1212.5,918.0 L1214.7,920.1 L1216.9,922.9 L1219.1,926.5 L1221.3,923.5 L1223.5,922.9 L1225.7,921.9 L1227.9,922.2 L1230.1,923.5 L1232.3,922.5 L1234.5,924.8 L1236.7,924.9 L1238.9,929.4 L1241.1,925.2 L1243.3,928.0 L1243.6,924.9 L1245.5,927.2 L1247.7,929.7 L1249.9,922.7 L1252.1,920.8 L1254.3,924.9 L1256.5,922.1 L1258.7,920.7 L1260.9,921.6 L1263.1,920.6 L1265.3,921.9 L1267.0,919.7 L1269.7,916.2 L1271.9,914.0 L1274.1,911.5 L1276.3,911.8 L1278.5,915.5 L1280.7,908.7 L1282.9,911.0 L1285.1,912.5 L1287.3,910.0 L1289.5,911.1 L1290.4,908.8 L1291.7,914.7 L1293.9,904.0 L1296.1,902.3 L1298.3,907.9 L1300.5,902.9 L1302.7,901.2 L1304.9,898.5 L1307.1,902.8 L1309.3,898.9 L1311.5,897.5 L1313.7,894.2 L1313.9,895.5 L1315.9,896.6 L1318.1,899.4 L1320.3,902.4 L1322.5,903.0 L1324.7,904.7 L1325.6,908.5 L1326.9,906.3 L1329.1,912.3 L1331.3,917.6 L1333.5,910.7 L1335.7,918.2 L1337.9,915.4 L1340.1,921.0 L1342.3,919.4 L1344.5,923.5 L1346.7,922.1 L1348.9,926.8 L1349.0,925.9 L1351.1,928.8 L1353.3,928.2 L1355.5,925.2 L1357.7,928.2 L1359.9,926.6 L1362.1,928.8 L1364.3,932.0 L1366.5,932.5 L1368.7,930.1 L1370.9,931.9 L1372.4,930.6 L1375.3,934.5 L1377.5,929.9 L1379.7,931.2 L1381.9,927.0 L1384.1,927.9 L1386.0,931.2 L1388.5,926.7 L1390.7,924.0 L1392.9,925.8 L1395.1,922.7 L1397.3,918.8 L1399.5,915.9 L1401.7,915.3 L1402.4,915.5 L1403.9,913.9 L1406.1,917.1 L1408.3,924.4 L1410.5,925.1 L1412.7,927.7 L1414.9,928.4 L1416.4,930.8 L1419.3,932.0 L1421.5,935.0 L1423.7,933.0 L1425.9,929.9 L1428.1,936.3 L1430.3,936.7 L1432.5,935.5 L1434.7,931.9 L1436.9,933.1 L1439.1,934.1 L1441.3,935.1 L1443.5,938.5 L1445.7,932.8 L1447.9,934.2 L1450.1,935.8 L1452.3,935.0 L1454.5,935.4 L1456.3,935.9 L1458.9,936.5 L1461.1,935.8 L1463.3,936.6 L1465.5,938.0 L1467.7,935.6 L1469.9,935.8 L1472.1,936.5 L1474.3,935.1 L1476.5,936.2 L1478.7,932.5 L1480.9,934.1 L1483.1,936.6 L1485.3,935.9 L1487.5,937.1 L1489.7,932.9 L1491.9,934.3 L1494.1,935.1 L1496.3,935.0 L1498.5,934.7 L1500.7,937.8 L1502.9,934.1 L1505.1,934.3 L1507.3,935.8 L1509.5,935.7 L1511.7,934.9 L1513.9,937.8 L1516.1,935.6 L1518.3,934.0 L1520.5,932.5 L1522.7,936.7 L1524.9,933.0 L1526.5,935.0 L1529.3,932.9 L1531.5,937.8 L1533.7,934.8 L1535.9,929.7 L1538.1,933.5 L1540.3,929.9 L1542.5,931.3 L1544.7,933.8 L1546.9,929.4 L1549.1,932.3 L1551.3,931.3 L1553.5,932.7 L1555.7,929.0 L1557.9,932.0 L1560.1,929.7 L1562.3,932.3 L1564.5,930.1 L1566.7,931.1 L1568.9,932.2 L1571.1,931.5 L1573.3,928.9 L1575.5,930.2 L1577.7,928.5 L1579.9,929.1 L1582.1,931.4 L1584.3,926.0 L1586.5,925.0 L1588.7,928.3 L1589.7,926.0 L1590.9,929.9 L1593.1,929.5 L1595.3,929.4 L1597.5,928.5 L1599.7,927.9 L1601.9,927.4 L1604.1,928.5 L1606.3,929.9 L1608.5,928.5 L1610.7,932.8 L1612.9,932.4 L1615.1,931.5 L1617.3,926.6 L1619.5,934.5 L1621.7,930.3 L1623.9,927.4 L1626.1,930.2 L1628.3,937.1 L1630.5,936.8 L1632.7,936.4 L1634.9,937.8 L1637.1,941.9 L1639.3,939.2 L1641.5,934.7 L1643.6,936.2 L1645.9,933.8 L1648.1,933.3 L1650.3,931.0 L1652.5,930.4 L1654.7,931.4 L1656.9,925.5 L1659.1,926.4 L1661.3,921.7 L1663.5,920.8 L1665.7,921.0 L1666.0,919.9 L1667.9,923.9 L1670.1,929.4 L1672.3,931.9 L1674.5,937.4 L1676.4,942.1 L1678.9,940.6 L1681.1,941.7 L1683.3,942.9 L1685.5,942.9 L1687.7,942.4 L1689.9,943.0 L1692.1,942.1 L1694.3,942.6 L1696.5,941.9 L1698.7,939.6 L1700.9,944.5 L1703.1,941.0 L1705.3,943.2 L1707.5,942.1 L1709.7,942.1 L1711.9,941.6 L1714.0,942.4 L1716.3,940.2 L1718.5,941.6 L1720.7,943.2 L1722.9,940.4 L1725.1,938.9 L1727.3,944.8 L1729.5,941.9 L1731.7,939.1 L1733.9,940.0 L1736.1,941.3 L1738.3,939.8 L1740.5,939.6 L1742.7,941.3 L1744.9,942.5 L1747.1,935.3 L1749.3,941.7 L1751.5,940.7 L1753.7,942.0 L1755.9,939.1 L1758.1,938.8 L1760.3,938.0 L1762.5,943.3 L1764.7,940.2 L1766.9,936.8 L1769.1,938.8 L1771.3,939.7 L1773.5,937.5 L1775.7,939.0 L1777.9,939.4 L1780.1,938.5 L1782.3,936.5 L1784.5,941.5 L1786.7,939.8 L1788.9,939.9 L1791.1,938.2 L1793.3,939.5 L1795.5,937.9 L1797.7,938.8 L1799.9,939.1 L1802.1,939.5 L1803.0,938.4 L1804.3,936.2 L1806.5,934.9 L1808.7,928.9 L1810.9,927.3 L1812.4,924.7 L1815.3,931.0 L1817.5,931.6 L1819.7,934.1 L1821.9,938.4 L1824.0,939.9 L1826.3,940.2 L1828.5,941.2 L1830.7,941.4 L1832.9,938.6 L1835.1,943.5 L1837.3,941.1 L1839.5,943.4 L1841.7,943.2 L1843.9,941.3 L1846.1,940.5 L1848.3,938.7 L1850.5,943.0 L1852.7,944.0 L1854.9,941.5 L1857.1,941.3 L1859.3,939.6 L1861.5,939.4 L1863.7,941.0 L1865.9,943.4 L1868.1,940.7 L1870.3,942.8 L1872.5,941.9 L1874.7,941.0 L1876.9,939.7 L1879.1,940.6 L1881.3,939.1 L1883.5,942.7 L1885.7,942.1 L1887.9,939.5 L1890.1,940.0 L1892.3,938.9 L1894.5,941.4 L1896.7,941.7 L1898.9,937.1 L1901.1,934.2 L1903.3,931.6 L1905.5,926.2 L1907.7,924.9 L1909.9,922.8 L1912.1,919.6 L1913.0,916.5 L1914.3,918.9 L1916.5,923.5 L1918.7,927.2 L1920.9,931.8 L1923.1,934.6 L1925.3,938.5 L1927.0,941.5 L1929.7,942.6 L1931.9,939.8 L1934.1,943.8 L1936.3,942.0 L1938.5,942.2 L1940.7,940.3 L1942.9,941.8 L1945.1,940.3 L1947.3,937.4 L1949.5,942.4 L1951.7,939.7 L1953.9,942.2 L1956.1,939.9 L1958.3,941.6 L1960.5,941.6 L1962.7,939.3 L1964.9,942.4 L1967.1,941.4 L1969.3,938.3 L1971.5,945.8 L1973.7,943.5 L1975.9,943.3 L1978.1,942.8 L1980.3,944.3 L1982.5,942.0 L1984.7,944.2 L1986.9,947.9 L1989.1,942.2 L1991.3,943.2 L1993.5,943.4 L1995.7,940.6 L1997.9,943.9 L2000.1,943.2 L2002.3,945.5 L2004.5,943.7 L2006.7,944.1 L2008.9,943.8 L2011.1,942.7 L2013.3,939.5 L2015.5,943.3 L2017.7,941.5 L2018.5,946.0 L2019.9,944.2 L2022.1,945.1 L2024.3,944.1 L2026.5,946.6 L2028.7,944.5 L2030.9,940.5 L2033.1,944.5 L2035.3,942.8 L2037.5,939.5 L2039.7,942.6 L2041.9,943.8 L2044.1,941.9 L2046.3,945.0 L2048.5,944.8 L2050.7,941.4 L2052.9,941.0 L2055.1,941.9 L2057.3,941.4 L2059.5,943.4 L2061.7,944.0 L2063.9,943.1 L2066.1,943.1 L2068.3,941.7 L2070.5,941.5 L2072.7,940.4 L2074.9,945.6 L2077.1,943.1 L2079.3,942.4 L2081.5,940.1 L2083.7,938.5 L2085.9,939.8 L2088.1,940.2 L2090.3,940.3 L2092.5,941.9 L2094.7,940.1 L2096.9,941.8 L2099.1,941.4 L2101.3,941.7 L2103.5,940.2 L2105.7,941.7 L2107.9,940.5 L2110.1,940.5 L2110.5,939.8"/>
<path stroke="#808000" d="M189.5,1090.8 L191.7,1089.3 L193.9,1094.4 L196.1,1086.7 L198.3,1089.8 L200.5,1092.5 L202.7,1087.6 L204.9,1088.1 L207.1,1089.5 L209.3,1088.4 L211.5,1086.6 L213.7,1088.4 L215.9,1088.0 L218.1,1089.8 L220.3,1085.2 L222.5,1087.0 L224.7,1090.5 L226.9,1091.7 L229.1,1085.1 L230.0,1089.3 L231.3,1085.9 L233.5,1085.8 L235.7,1085.4 L237.9,1086.0 L240.1,1088.5 L242.3,1087.6 L244.5,1085.9 L246.7,1084.8 L248.9,1085.2 L250.0,1084.8 L251.1,1086.6 L253.3,1083.6 L255.5,1084.8 L257.7,1084.5 L259.9,1084.6 L262.1,1085.1 L264.3,1084.9 L265.0,1087.2 L266.5,1084.5 L268.7,1088.0 L270.9,1084.5 L273.1,1084.3 L275.3,1085.7 L277.5,1086.4 L279.7,1086.5 L280.0,1088.5 L281.9,1088.7 L284.1,1088.0 L286.3,1086.9 L288.5,1088.0 L290.7,1091.4 L292.9,1089.7 L295.1,1087.4 L297.3,1089.1 L299.5,1089.9 L301.7,1093.6 L303.0,1091.6 L306.1,1095.8 L308.3,1092.9 L310.5,1091.9 L312.7,1090.8 L314.9,1093.4 L317.1,1091.1 L319.3,1090.0 L321.5,1092.5 L323.7,1091.5 L325.9,1093.6 L328.1,1091.2 L330.3,1086.0 L332.5,1092.7 L334.7,1087.7 L336.9,1094.1 L339.1,1094.6 L341.3,1090.3 L343.5,1088.9 L345.7,1088.4 L347.9,1092.6 L350.1,1090.6 L352.3,1089.8 L354.5,1090.4 L356.7,1094.8 L358.9,1091.4 L361.1,1092.2 L363.3,1092.2 L365.5,1092.6 L367.7,1092.6 L369.9,1089.3 L372.1,1090.2 L374.3,1089.1 L376.5,1089.1 L378.7,1092.6 L380.9,1089.5 L383.1,1090.2 L385.3,1089.0 L387.5,1089.2 L389.7,1091.7 L391.9,1089.4 L394.1,1089.3 L396.3,1091.1 L398.5,1091.0 L400.7,1091.6 L402.9,1090.3 L405.1,1086.6 L407.3,1091.1 L409.5,1090.8 L411.7,1091.8 L413.9,1088.2 L416.1,1094.6 L418.3,1087.4 L420.0,1091.1 L422.7,1089.7 L424.9,1088.6 L427.1,1091.0 L429.3,1088.9 L431.5,1087.0 L433.7,1087.0 L435.9,1090.1 L438.1,1093.4 L440.3,1086.2 L442.5,1088.9 L444.7,1091.7 L446.9,1090.0 L449.1,1088.0 L451.3,1085.9 L453.5,1085.1 L455.7,1087.1 L457.9,1087.7 L460.1,1084.0 L462.3,1085.0 L464.5,1088.8 L466.7,1087.4 L468.9,1086.6 L471.1,1087.2 L473.3,1086.4 L475.5,1089.7 L477.7,1091.0 L479.9,1091.8 L482.1,1089.0 L484.3,1089.1 L486.5,1090.4 L488.7,1090.9 L490.9,1090.3 L493.1,1093.1 L495.3,1086.0 L497.5,1084.0 L499.7,1088.8 L501.9,1086.8 L504.1,1084.5 L506.3,1085.1 L508.0,1084.2 L510.7,1089.6 L512.9,1087.7 L515.1,1084.6 L517.3,1087.5 L519.5,1087.3 L521.7,1087.7 L523.9,1087.4 L526.1,1086.5 L528.3,1084.0 L530.5,1086.6 L532.7,1085.3 L534.9,1087.6 L537.1,1086.9 L539.3,1087.2 L541.5,1085.3 L543.7,1087.3 L545.9,1085.4 L548.1,1087.4 L550.3,1085.8 L552.5,1084.1 L554.7,1087.3 L556.9,1084.9 L559.1,1089.2 L561.3,1087.1 L563.5,1087.2 L565.7,1086.4 L567.9,1083.7 L570.1,1081.4 L572.3,1088.6 L574.5,1084.5 L576.7,1088.0 L578.9,1084.8 L581.1,1085.8 L583.3,1085.6 L585.5,1084.0 L586.0,1085.7 L587.7,1086.6 L589.9,1084.4 L592.1,1082.3 L594.3,1083.2 L596.5,1084.4 L598.7,1085.8 L600.9,1084.8 L603.1,1083.2 L605.3,1080.1 L607.5,1083.7 L609.4,1081.5 L611.9,1080.9 L614.1,1083.3 L616.3,1082.7 L618.5,1082.5 L620.7,1078.9 L622.9,1080.1 L625.1,1080.5 L627.3,1081.5 L628.2,1081.4 L629.5,1078.4 L631.7,1072.1 L633.9,1066.1 L635.2,1063.3 L638.3,1048.6 L640.5,1039.1 L641.0,1036.9 L642.7,1033.6 L643.4,1032.2 L644.9,1009.3 L645.7,997.1 L647.1,969.8 L648.1,950.3 L649.2,881.0 L651.5,836.1 L651.6,834.2 L653.4,810.8 L654.6,802.6 L655.9,808.9 L656.3,810.8 L658.1,847.4 L658.6,857.6 L660.3,890.8 L661.0,904.4 L662.5,943.9 L663.3,965.0 L664.7,996.6 L666.8,1043.9 L669.1,1050.5 L671.3,1056.7 L673.5,1062.1 L675.0,1067.9 L677.9,1069.9 L680.1,1071.2 L682.3,1075.0 L684.4,1077.9 L686.7,1078.3 L688.9,1076.9 L691.1,1078.2 L693.3,1077.9 L695.5,1075.6 L697.7,1079.3 L699.9,1078.6 L702.1,1081.3 L704.3,1080.5 L706.5,1083.1 L708.7,1082.9 L710.9,1083.6 L713.1,1084.6 L715.3,1083.8 L717.0,1082.3 L719.7,1084.9 L721.9,1079.8 L724.1,1081.3 L726.3,1082.8 L728.5,1079.9 L730.7,1081.7 L732.9,1078.0 L735.1,1078.2 L737.3,1080.2 L739.5,1082.8 L741.7,1080.8 L743.9,1077.6 L746.1,1078.1 L748.3,1078.4 L750.0,1077.7 L752.7,1073.5 L754.9,1074.9 L757.1,1079.2 L759.3,1072.8 L761.5,1076.8 L763.7,1074.2 L765.9,1077.2 L768.1,1072.9 L770.3,1074.5 L772.5,1069.5 L774.7,1073.8 L776.9,1076.2 L779.1,1070.0 L781.3,1075.9 L783.5,1071.3 L785.7,1072.6 L787.9,1066.0 L790.1,1074.5 L792.0,1073.9 L794.5,1069.5 L796.7,1066.7 L798.9,1066.1 L801.1,1069.6 L803.3,1064.8 L805.5,1066.7 L807.7,1063.1 L809.9,1063.1 L812.1,1060.0 L814.3,1060.3 L816.5,1061.2 L817.9,1058.6 L820.9,1052.5 L823.1,1047.4 L824.9,1043.8 L827.5,1032.4 L829.6,1022.8 L831.9,998.2 L833.1,985.5 L834.1,975.3 L835.4,962.0 L837.8,954.9 L840.7,959.6 L842.4,962.1 L845.1,979.5 L846.0,985.7 L847.3,995.3 L849.5,1012.0 L850.6,1020.4 L851.7,1026.0 L853.9,1036.9 L855.3,1043.9 L858.3,1052.2 L860.5,1056.2 L862.7,1063.8 L864.7,1070.2 L867.1,1070.1 L869.3,1068.3 L871.5,1068.5 L873.7,1072.9 L875.9,1069.6 L878.1,1069.1 L880.3,1074.9 L882.5,1069.6 L884.7,1072.3 L886.9,1070.6 L889.1,1075.2 L891.3,1068.7 L893.5,1069.1 L895.7,1074.1 L897.9,1068.5 L900.1,1072.0 L902.3,1068.6 L904.5,1071.0 L906.7,1071.6 L908.9,1067.9 L911.1,1074.5 L913.3,1071.5 L914.0,1074.9 L915.5,1069.8 L917.7,1074.1 L919.9,1077.5 L922.1,1072.5 L924.3,1070.5 L926.5,1073.1 L928.7,1072.3 L930.9,1071.5 L933.1,1071.7 L935.3,1070.6 L937.5,1073.0 L939.7,1071.1 L941.9,1070.0 L944.1,1073.9 L946.3,1071.6 L948.5,1078.2 L950.7,1071.4 L952.9,1070.3 L955.1,1070.7 L957.3,1072.9 L959.5,1070.4 L960.7,1069.1 L961.7,1075.7 L963.9,1068.6 L966.1,1074.6 L968.3,1071.0 L970.5,1067.8 L972.7,1073.9 L974.9,1069.1 L977.1,1066.8 L979.3,1069.0 L981.5,1071.6 L983.7,1069.7 L985.9,1069.6 L986.0,1071.7 L988.1,1067.4 L990.3,1066.9 L992.5,1064.6 L994.7,1060.8 L996.9,1063.0 L999.1,1066.4 L1001.3,1057.4 L1003.5,1064.0 L1005.7,1065.3 L1007.9,1056.8 L1009.4,1061.5 L1012.3,1063.1 L1014.5,1057.4 L1016.7,1061.2 L1018.9,1062.3 L1021.1,1057.2 L1023.3,1061.4 L1025.5,1061.4 L1027.7,1059.0 L1029.9,1062.1 L1032.1,1059.7 L1032.8,1059.3 L1034.3,1057.1 L1036.5,1060.6 L1038.7,1054.7 L1040.9,1056.9 L1043.1,1054.7 L1045.3,1053.5 L1047.5,1054.3 L1049.7,1057.6 L1051.9,1052.9 L1054.1,1058.2 L1056.3,1057.6 L1058.5,1053.7 L1060.7,1049.6 L1062.9,1057.7 L1065.1,1048.0 L1067.3,1053.0 L1069.5,1055.7 L1071.7,1050.1 L1073.9,1048.3 L1076.1,1049.7 L1078.3,1051.7 L1079.7,1052.6 L1082.7,1049.5 L1084.9,1044.2 L1087.1,1044.4 L1089.3,1046.0 L1091.5,1041.1 L1093.7,1043.1 L1095.9,1049.2 L1098.1,1039.2 L1098.4,1045.2 L1100.3,1039.7 L1102.5,1041.7 L1104.7,1042.8 L1106.9,1039.0 L1109.1,1043.5 L1111.3,1052.4 L1113.5,1046.6 L1115.7,1046.9 L1117.9,1043.0 L1120.1,1045.2 L1122.3,1046.6 L1124.5,1048.3 L1126.5,1050.4 L1128.9,1044.7 L1131.1,1052.7 L1133.3,1047.9 L1135.5,1048.7 L1137.7,1046.8 L1139.9,1050.5 L1142.1,1050.7 L1144.3,1048.7 L1146.5,1051.9 L1148.7,1053.6 L1150.0,1052.6 L1153.1,1056.7 L1155.3,1052.6 L1157.5,1058.3 L1159.7,1056.1 L1161.9,1058.2 L1164.1,1053.2 L1166.3,1058.9 L1168.5,1059.1 L1170.7,1062.1 L1172.9,1057.7 L1173.4,1064.0 L1175.1,1058.9 L1177.3,1065.6 L1179.5,1064.8 L1181.7,1062.7 L1183.9,1070.4 L1186.1,1063.7 L1188.3,1067.0 L1190.5,1068.8 L1192.7,1070.5 L1194.9,1070.8 L1196.8,1072.9 L1199.3,1072.8 L1201.5,1072.5 L1203.7,1070.8 L1205.9,1072.7 L1208.1,1076.1 L1210.3,1072.0 L1212.5,1075.4 L1214.7,1071.2 L1216.9,1074.7 L1219.1,1073.3 L1220.2,1079.8 L1221.3,1073.2 L1223.5,1076.9 L1225.7,1079.3 L1227.9,1079.2 L1230.1,1079.8 L1232.3,1080.6 L1234.5,1079.5 L1236.7,1080.5 L1238.9,1078.8 L1241.1,1079.1 L1243.3,1079.8 L1243.6,1079.8 L1245.5,1081.8 L1247.7,1077.0 L1249.9,1075.6 L1252.1,1077.9 L1254.3,1079.8 L1256.5,1079.5 L1258.7,1073.1 L1260.9,1077.0 L1263.1,1074.1 L1265.3,1075.7 L1267.0,1069.8 L1269.7,1076.0 L1271.9,1072.4 L1274.1,1073.1 L1276.3,1071.6 L1278.5,1069.0 L1280.7,1071.8 L1282.9,1068.9 L1285.1,1067.7 L1287.3,1070.1 L1289.5,1067.8 L1290.4,1066.1 L1291.7,1069.2 L1293.9,1064.8 L1296.1,1065.1 L1298.3,1069.2 L1300.5,1062.3 L1302.7,1065.0 L1304.9,1065.1 L1307.1,1060.3 L1309.2,1057.3 L1311.5,1064.1 L1313.7,1064.5 L1315.9,1061.4 L1318.1,1064.7 L1320.3,1063.2 L1322.2,1061.8 L1324.7,1068.8 L1326.9,1069.2 L1329.1,1070.6 L1331.3,1075.2 L1331.4,1074.8 L1333.5,1072.0 L1335.7,1071.8 L1337.9,1071.2 L1340.1,1076.2 L1342.3,1076.4 L1344.5,1079.0 L1346.7,1079.3 L1348.9,1079.0 L1351.1,1080.5 L1353.3,1079.3 L1355.5,1085.6 L1357.7,1082.7 L1359.9,1085.4 L1362.1,1083.3 L1364.3,1085.2 L1366.5,1086.8 L1368.7,1085.4 L1370.9,1087.1 L1373.1,1090.8 L1374.0,1086.7 L1375.3,1087.2 L1377.5,1084.7 L1379.7,1082.0 L1381.9,1084.4 L1384.1,1081.4 L1386.3,1079.8 L1388.5,1074.2 L1388.8,1078.2 L1390.7,1077.3 L1392.9,1074.4 L1395.1,1071.6 L1397.3,1070.5 L1399.5,1067.9 L1400.8,1066.9 L1403.9,1075.9 L1405.4,1080.1 L1408.3,1081.1 L1410.5,1084.7 L1412.7,1085.1 L1414.7,1085.1 L1417.1,1088.7 L1419.3,1085.1 L1421.5,1087.8 L1423.7,1084.2 L1425.9,1087.3 L1428.1,1088.6 L1430.3,1089.7 L1432.5,1088.9 L1434.7,1088.4 L1436.9,1088.7 L1439.1,1093.5 L1441.3,1090.0 L1443.5,1090.9 L1445.7,1094.8 L1447.9,1088.4 L1448.0,1087.8 L1450.1,1089.7 L1452.3,1090.9 L1454.5,1086.1 L1456.7,1091.5 L1458.9,1091.4 L1461.1,1088.7 L1463.3,1091.9 L1465.5,1088.9 L1467.7,1092.9 L1469.9,1092.0 L1472.1,1095.7 L1474.3,1093.1 L1476.5,1091.2 L1478.7,1092.2 L1480.9,1091.9 L1483.1,1090.2 L1485.3,1088.9 L1487.5,1093.6 L1489.7,1094.4 L1491.9,1090.7 L1494.1,1091.1 L1496.3,1090.7 L1498.5,1093.5 L1500.7,1093.8 L1502.9,1090.0 L1505.1,1091.0 L1507.3,1090.6 L1509.5,1092.0 L1511.7,1093.0 L1513.9,1093.6 L1516.1,1091.1 L1518.3,1089.8 L1520.5,1092.6 L1522.0,1092.7 L1524.9,1090.8 L1527.1,1091.6 L1529.3,1091.8 L1531.5,1092.6 L1533.7,1091.0 L1535.9,1091.6 L1538.1,1090.9 L1540.3,1088.6 L1542.5,1091.6 L1544.7,1090.3 L1546.9,1092.0 L1549.1,1084.6 L1551.3,1088.4 L1553.5,1090.2 L1555.7,1086.1 L1557.9,1089.0 L1560.1,1088.3 L1562.3,1088.2 L1564.5,1088.4 L1566.7,1084.4 L1568.9,1088.6 L1571.1,1088.6 L1573.3,1090.3 L1575.5,1090.9 L1577.4,1088.7 L1579.9,1093.5 L1582.1,1083.6 L1584.3,1089.4 L1586.5,1090.6 L1588.7,1090.2 L1590.9,1089.1 L1593.1,1088.1 L1595.3,1088.2 L1597.5,1089.0 L1599.7,1089.9 L1601.9,1090.3 L1604.1,1089.1 L1606.3,1087.0 L1608.5,1093.0 L1610.7,1088.0 L1612.9,1084.6 L1615.1,1092.6 L1617.3,1091.9 L1619.5,1090.4 L1621.7,1092.0 L1623.9,1091.1 L1626.1,1088.8 L1628.3,1090.7 L1630.5,1088.3 L1632.7,1089.5 L1634.9,1089.2 L1637.1,1091.2 L1639.3,1093.0 L1641.5,1089.9 L1643.7,1092.1 L1645.9,1087.4 L1648.1,1090.6 L1650.3,1092.0 L1651.4,1092.3 L1652.5,1090.4 L1654.7,1086.0 L1656.9,1081.6 L1658.0,1079.9 L1659.1,1074.2 L1661.3,1064.1 L1663.5,1053.6 L1664.4,1049.1 L1665.7,1056.6 L1667.9,1069.5 L1668.0,1070.1 L1670.1,1079.3 L1672.3,1089.0 L1673.0,1092.2 L1674.5,1092.3 L1676.7,1092.5 L1678.9,1093.8 L1681.1,1092.8 L1683.3,1092.7 L1685.5,1092.7 L1687.7,1094.0 L1689.9,1092.7 L1692.1,1094.1 L1694.3,1092.6 L1696.5,1096.4 L1698.7,1094.9 L1700.9,1094.6 L1703.1,1095.9 L1705.3,1096.0 L1707.5,1095.0 L1709.7,1096.8 L1711.9,1096.4 L1714.1,1095.7 L1716.3,1095.5 L1718.5,1093.7 L1720.7,1096.2 L1722.9,1096.3 L1725.1,1094.7 L1727.3,1098.8 L1729.5,1096.5 L1731.7,1094.8 L1733.9,1096.1 L1736.1,1100.3 L1737.0,1097.0 L1738.3,1095.7 L1740.5,1097.1 L1742.7,1094.3 L1744.9,1096.1 L1747.1,1097.6 L1749.3,1095.5 L1751.5,1097.8 L1753.7,1098.0 L1755.9,1095.4 L1758.1,1092.1 L1760.3,1097.9 L1762.5,1098.7 L1764.7,1093.4 L1766.9,1096.5 L1769.1,1096.7 L1771.3,1095.1 L1773.5,1095.0 L1775.7,1098.1 L1777.9,1096.2 L1780.1,1095.8 L1782.3,1097.8 L1784.5,1094.6 L1786.7,1092.3 L1788.9,1097.9 L1791.1,1094.0 L1793.3,1095.3 L1795.5,1097.4 L1797.7,1095.7 L1799.9,1095.2 L1802.1,1094.8 L1803.0,1095.3 L1804.3,1092.8 L1806.5,1086.0 L1808.7,1080.1 L1810.9,1075.5 L1812.0,1072.1 L1813.1,1075.3 L1815.3,1080.6 L1817.5,1085.5 L1819.7,1091.4 L1820.6,1093.7 L1821.9,1094.2 L1824.1,1093.1 L1826.3,1093.7 L1828.5,1094.2 L1830.7,1091.5 L1832.9,1092.0 L1835.1,1093.1 L1837.3,1092.7 L1839.5,1095.7 L1841.7,1094.0 L1843.9,1099.0 L1846.1,1093.1 L1848.3,1093.2 L1850.5,1097.8 L1852.7,1092.8 L1854.9,1094.7 L1857.1,1088.2 L1859.3,1092.6 L1861.5,1096.4 L1863.7,1094.5 L1865.9,1094.7 L1868.1,1092.7 L1870.3,1093.7 L1872.5,1095.3 L1874.7,1094.5 L1876.9,1095.7 L1879.1,1092.7 L1881.3,1095.5 L1883.5,1096.3 L1885.7,1099.6 L1887.9,1095.3 L1890.1,1095.3 L1892.3,1092.6 L1894.5,1091.7 L1896.7,1093.4 L1898.9,1094.1 L1900.0,1094.6 L1901.1,1090.1 L1903.3,1082.2 L1904.0,1080.0 L1905.5,1069.8 L1907.7,1054.6 L1909.9,1039.8 L1910.5,1035.6 L1912.1,1047.9 L1914.3,1064.6 L1915.0,1070.0 L1916.5,1075.1 L1918.7,1082.9 L1920.9,1090.2 L1921.4,1092.6 L1923.1,1092.4 L1925.3,1092.5 L1927.5,1090.1 L1929.7,1094.1 L1931.9,1089.6 L1934.1,1090.8 L1936.3,1091.5 L1938.5,1093.5 L1940.7,1093.6 L1942.9,1092.3 L1945.1,1094.6 L1947.3,1098.1 L1949.5,1093.6 L1951.7,1092.1 L1953.9,1092.1 L1956.1,1094.2 L1958.3,1097.4 L1960.5,1094.3 L1962.7,1094.2 L1964.9,1093.0 L1967.1,1092.8 L1969.3,1096.9 L1971.5,1095.7 L1973.7,1096.0 L1975.9,1092.9 L1978.1,1096.5 L1980.3,1096.2 L1982.5,1102.0 L1984.7,1097.8 L1986.9,1095.5 L1989.1,1096.7 L1991.3,1096.8 L1993.5,1096.1 L1995.7,1094.9 L1997.9,1098.2 L2000.1,1100.8 L2002.3,1096.6 L2004.5,1099.9 L2006.7,1096.5 L2007.5,1099.7 L2008.9,1097.0 L2011.1,1096.4 L2013.3,1098.7 L2015.5,1098.9 L2017.7,1092.1 L2019.9,1098.1 L2022.1,1099.7 L2024.3,1099.7 L2026.5,1094.8 L2028.7,1096.6 L2030.9,1098.5 L2033.1,1097.8 L2035.3,1098.9 L2037.5,1094.7 L2039.7,1097.1 L2041.9,1097.0 L2044.1,1093.4 L2046.3,1096.6 L2048.5,1097.4 L2050.7,1096.2 L2052.9,1093.1 L2055.1,1094.4 L2057.3,1094.8 L2059.5,1096.1 L2061.7,1095.7 L2063.9,1094.4 L2066.1,1092.0 L2068.3,1091.7 L2070.5,1093.1 L2072.7,1093.0 L2074.9,1093.6 L2077.1,1092.7 L2079.3,1094.3 L2081.5,1093.4 L2083.7,1094.8 L2085.9,1094.3 L2088.1,1095.3 L2090.3,1092.5 L2092.5,1095.4 L2094.7,1092.0 L2096.9,1094.1 L2099.1,1095.2 L2101.3,1095.9 L2103.5,1094.0 L2105.7,1093.4 L2107.9,1094.9 L2110.1,1093.4 L2110.5,1091.7"/>
<path stroke="#8F00FF" d="M189.5,1240.4 L191.7,1242.3 L193.9,1241.2 L196.1,1239.1 L198.3,1236.1 L200.5,1242.3 L202.7,1242.6 L204.9,1237.6 L207.1,1243.4 L209.3,1239.4 L211.5,1244.8 L213.7,1241.1 L215.0,1239.4 L218.1,1241.3 L220.3,1238.5 L222.5,1237.8 L224.7,1237.0 L226.9,1235.9 L229.1,1236.7 L231.3,1236.3 L233.5,1234.8 L235.7,1236.9 L237.9,1230.0 L240.0,1233.6 L242.3,1233.3 L244.5,1228.8 L246.7,1234.2 L248.9,1232.0 L251.1,1229.8 L253.3,1230.9 L255.5,1228.2 L257.7,1225.9 L259.9,1230.5 L262.1,1230.2 L264.0,1228.2 L266.5,1226.2 L268.7,1225.9 L270.9,1229.4 L273.1,1231.1 L275.3,1233.4 L277.5,1236.5 L279.7,1233.9 L280.0,1233.6 L281.9,1239.4 L284.1,1235.8 L286.3,1234.0 L288.5,1239.5 L290.7,1236.2 L292.9,1237.3 L295.1,1237.0 L297.3,1240.2 L299.5,1242.0 L301.7,1240.0 L303.0,1241.7 L306.1,1240.0 L308.3,1245.1 L310.5,1243.5 L312.7,1239.5 L314.9,1241.5 L317.1,1242.2 L319.3,1241.2 L321.5,1238.9 L323.7,1239.9 L325.9,1241.5 L328.1,1240.9 L330.3,1238.4 L332.5,1240.8 L334.7,1237.9 L336.9,1235.8 L339.1,1240.0 L341.3,1241.4 L343.5,1240.3 L345.7,1242.2 L347.9,1242.6 L350.1,1239.9 L352.3,1238.0 L354.5,1239.0 L356.7,1236.3 L358.9,1238.9 L361.1,1238.7 L363.3,1239.1 L365.5,1240.8 L367.7,1234.6 L369.9,1240.0 L372.1,1237.4 L374.3,1239.9 L376.5,1238.6 L378.7,1236.2 L380.9,1241.9 L383.1,1236.6 L385.3,1239.0 L387.5,1236.8 L389.7,1236.9 L391.9,1238.0 L394.1,1241.3 L396.3,1238.9 L398.5,1237.5 L400.7,1240.6 L402.9,1239.7 L405.1,1236.7 L407.3,1235.3 L409.5,1237.4 L411.7,1237.2 L413.9,1235.6 L416.1,1233.1 L418.3,1236.5 L420.0,1236.9 L422.7,1235.8 L424.9,1234.5 L427.1,1234.1 L429.3,1235.1 L431.5,1238.7 L433.7,1236.1 L435.9,1232.4 L438.1,1236.8 L440.3,1230.8 L442.5,1239.9 L444.7,1234.5 L446.9,1232.2 L449.1,1235.2 L451.3,1235.2 L453.5,1234.6 L455.7,1234.5 L457.9,1233.8 L460.1,1233.0 L462.3,1233.2 L464.5,1231.4 L466.7,1232.6 L468.9,1232.2 L471.1,1232.5 L473.3,1232.3 L475.5,1232.8 L477.7,1233.9 L479.9,1232.2 L482.1,1232.9 L484.3,1233.1 L486.5,1231.7 L488.7,1231.9 L490.9,1232.8 L493.1,1228.4 L495.3,1233.2 L497.5,1230.7 L499.7,1223.8 L501.9,1232.5 L504.1,1228.7 L506.3,1233.0 L508.0,1228.9 L510.7,1230.3 L512.9,1231.9 L515.1,1228.6 L517.3,1223.8 L519.5,1229.5 L521.7,1232.5 L523.9,1231.7 L526.1,1232.1 L528.3,1229.7 L530.5,1229.6 L532.7,1230.7 L534.9,1229.4 L537.1,1226.1 L539.3,1229.4 L541.5,1226.3 L543.7,1225.4 L545.9,1227.2 L548.1,1226.5 L550.0,1228.4 L552.5,1227.4 L554.7,1229.4 L556.9,1227.0 L559.1,1226.1 L561.3,1226.9 L563.5,1230.6 L565.7,1228.9 L567.9,1227.4 L570.1,1227.8 L572.3,1227.4 L574.5,1228.5 L576.7,1225.9 L578.9,1230.6 L581.1,1228.9 L583.3,1231.1 L585.5,1231.9 L586.0,1230.6 L587.7,1227.3 L589.9,1226.1 L592.1,1229.6 L594.3,1228.9 L596.5,1223.5 L598.7,1223.6 L600.9,1227.3 L603.1,1224.3 L605.3,1227.8 L607.5,1223.8 L609.4,1224.1 L611.9,1221.8 L614.1,1221.0 L616.3,1218.6 L618.5,1215.7 L620.7,1223.6 L622.9,1223.1 L623.5,1221.3 L625.1,1221.6 L627.3,1215.2 L629.5,1217.2 L631.7,1212.1 L633.9,1209.6 L635.2,1207.9 L638.3,1177.0 L639.9,1161.0 L642.7,1123.6 L643.4,1114.2 L644.9,1083.7 L645.7,1067.4 L647.1,1033.2 L648.1,1008.8 L649.3,992.7 L651.5,963.3 L651.6,962.0 L653.7,944.5 L655.1,932.7 L658.1,967.8 L658.6,973.7 L660.3,1023.4 L661.0,1043.9 L662.5,1089.7 L663.3,1114.2 L664.7,1149.8 L665.6,1172.7 L666.9,1178.3 L669.1,1187.7 L671.3,1197.8 L672.7,1202.9 L675.7,1205.9 L677.9,1207.6 L680.1,1211.9 L682.3,1213.1 L684.4,1213.2 L686.7,1219.0 L688.9,1215.4 L691.1,1217.2 L693.3,1218.1 L695.5,1217.3 L697.7,1219.9 L699.9,1220.9 L702.1,1222.2 L703.0,1222.7 L704.3,1220.6 L706.5,1219.3 L708.7,1223.4 L710.9,1219.9 L713.1,1222.5 L715.3,1220.6 L717.5,1225.4 L719.7,1218.4 L721.9,1214.3 L724.1,1217.0 L726.3,1220.2 L728.5,1221.5 L730.7,1220.7 L732.9,1217.6 L735.1,1219.5 L737.3,1212.7 L739.5,1213.3 L741.7,1212.0 L743.9,1215.4 L746.1,1216.7 L748.3,1213.1 L750.0,1213.7 L752.7,1211.1 L754.9,1211.0 L757.1,1211.9 L759.3,1215.2 L761.5,1208.6 L763.7,1212.0 L765.9,1213.1 L768.1,1211.6 L770.3,1207.8 L772.5,1213.8 L774.7,1208.6 L776.9,1208.7 L779.1,1208.1 L781.3,1209.5 L783.5,1207.1 L785.7,1211.0 L787.9,1211.5 L790.1,1204.5 L792.3,1201.4 L794.5,1208.7 L796.7,1206.2 L796.8,1207.0 L798.9,1205.5 L801.1,1201.5 L803.3,1201.1 L805.5,1195.2 L807.7,1197.2 L809.9,1195.9 L812.1,1192.2 L814.3,1191.3 L815.5,1191.3 L816.5,1190.7 L818.7,1187.2 L820.9,1184.4 L822.5,1182.2 L825.3,1162.6 L827.2,1149.2 L829.7,1115.9 L830.7,1102.5 L831.9,1084.9 L833.1,1067.5 L834.1,1063.3 L835.4,1058.0 L838.5,1053.4 L839.4,1052.1 L840.7,1058.7 L842.4,1067.4 L845.1,1093.8 L846.0,1102.5 L847.3,1119.0 L849.5,1147.0 L850.6,1161.0 L851.7,1163.1 L853.9,1167.5 L854.2,1168.0 L856.1,1179.8 L858.3,1193.0 L858.8,1196.0 L860.5,1197.9 L862.7,1200.6 L864.9,1201.1 L867.0,1206.9 L869.3,1205.0 L871.5,1204.6 L873.7,1210.4 L875.9,1205.2 L878.1,1205.1 L880.3,1213.6 L882.5,1202.6 L884.7,1207.0 L886.9,1205.8 L889.1,1210.4 L891.3,1210.3 L893.5,1201.0 L895.7,1207.4 L897.9,1208.3 L900.1,1209.3 L902.3,1204.6 L904.5,1208.0 L906.7,1212.7 L908.9,1211.4 L911.1,1205.9 L913.3,1209.5 L915.5,1206.9 L917.7,1211.1 L919.9,1201.5 L922.1,1211.6 L924.3,1210.1 L926.5,1212.3 L928.7,1206.7 L930.9,1209.2 L933.1,1207.3 L935.3,1211.3 L937.0,1210.8 L939.7,1214.0 L941.9,1210.3 L944.1,1202.0 L946.3,1207.5 L948.5,1206.2 L950.7,1207.6 L952.9,1205.9 L955.1,1201.3 L957.3,1198.8 L959.5,1204.5 L960.7,1199.2 L961.7,1201.4 L963.9,1202.4 L966.1,1203.3 L968.3,1203.0 L970.5,1199.7 L972.7,1200.3 L974.9,1197.3 L977.1,1197.7 L979.3,1197.0 L981.5,1198.3 L983.7,1193.0 L985.9,1193.1 L986.0,1194.0 L988.1,1198.9 L990.3,1192.9 L992.5,1196.4 L994.7,1198.3 L996.9,1191.4 L999.1,1189.8 L1001.3,1189.7 L1003.5,1196.2 L1005.7,1195.7 L1007.9,1193.7 L1009.4,1191.2 L1012.3,1194.0 L1014.5,1189.2 L1016.7,1194.8 L1018.9,1193.3 L1021.1,1192.9 L1023.3,1196.9 L1025.5,1189.5 L1027.7,1189.0 L1029.9,1193.3 L1032.1,1194.9 L1032.8,1189.2 L1034.3,1188.3 L1036.5,1189.9 L1038.7,1191.1 L1040.9,1186.4 L1043.1,1190.4 L1045.3,1192.8 L1047.5,1185.6 L1049.7,1183.5 L1051.9,1190.4 L1054.1,1179.4 L1056.3,1185.7 L1058.5,1184.5 L1060.7,1176.2 L1062.9,1181.7 L1065.1,1183.1 L1067.3,1176.7 L1069.5,1170.1 L1071.7,1173.8 L1073.9,1175.7 L1076.1,1171.2 L1078.3,1176.5 L1079.7,1169.0 L1082.7,1170.2 L1084.9,1168.6 L1087.1,1169.7 L1089.3,1170.8 L1091.5,1168.6 L1093.7,1164.9 L1095.9,1166.5 L1098.1,1165.4 L1098.4,1164.6 L1100.3,1164.4 L1102.5,1164.3 L1104.7,1167.8 L1106.9,1174.4 L1109.1,1167.9 L1111.3,1168.8 L1113.5,1165.6 L1115.7,1166.9 L1117.9,1173.9 L1120.1,1168.4 L1122.3,1171.3 L1124.5,1173.0 L1126.5,1168.9 L1128.9,1175.0 L1131.1,1174.7 L1133.3,1175.1 L1135.5,1171.6 L1137.7,1175.5 L1139.9,1170.1 L1142.1,1177.1 L1144.3,1178.0 L1146.5,1177.4 L1148.7,1183.3 L1150.0,1176.2 L1153.1,1180.2 L1155.3,1179.9 L1157.5,1185.4 L1159.7,1185.5 L1161.9,1190.7 L1164.1,1187.8 L1166.3,1192.5 L1168.5,1192.8 L1170.7,1195.0 L1172.9,1197.6 L1173.4,1199.8 L1175.1,1200.4 L1177.3,1195.5 L1179.5,1201.1 L1181.7,1198.8 L1183.9,1203.3 L1186.1,1201.8 L1188.3,1207.4 L1190.5,1208.3 L1192.7,1208.0 L1194.9,1206.9 L1196.8,1206.8 L1199.3,1208.5 L1201.5,1212.0 L1203.7,1215.1 L1205.9,1216.9 L1208.1,1218.2 L1210.3,1215.0 L1212.5,1218.0 L1214.7,1221.0 L1216.9,1224.0 L1219.1,1225.4 L1220.2,1219.3 L1221.3,1225.7 L1223.5,1222.1 L1225.7,1218.7 L1227.9,1223.5 L1230.1,1223.4 L1232.3,1222.7 L1234.5,1223.1 L1236.7,1220.8 L1238.9,1226.7 L1241.1,1223.7 L1243.3,1220.2 L1243.6,1223.6 L1245.5,1217.8 L1247.7,1223.0 L1249.9,1220.0 L1252.1,1221.5 L1254.3,1221.7 L1256.5,1219.0 L1258.7,1223.7 L1260.9,1217.9 L1263.1,1218.0 L1265.3,1215.9 L1267.0,1214.6 L1269.7,1212.3 L1271.9,1215.9 L1274.1,1214.1 L1276.3,1215.1 L1278.5,1209.2 L1280.7,1208.0 L1282.9,1208.4 L1285.1,1208.2 L1287.3,1206.9 L1289.5,1202.5 L1290.4,1205.7 L1291.7,1205.3 L1293.9,1203.9 L1296.1,1200.5 L1298.3,1199.3 L1300.0,1200.4 L1302.7,1199.1 L1304.9,1195.3 L1307.1,1193.9 L1309.3,1192.6 L1311.5,1193.5 L1313.0,1190.9 L1315.9,1191.7 L1318.1,1192.7 L1320.3,1192.0 L1322.5,1198.3 L1324.7,1205.4 L1325.9,1210.9 L1326.9,1210.2 L1329.1,1211.1 L1331.3,1215.5 L1333.5,1216.3 L1335.7,1218.5 L1337.0,1216.5 L1340.1,1219.4 L1342.3,1220.4 L1344.5,1224.2 L1346.7,1221.7 L1348.9,1222.6 L1351.1,1222.4 L1353.3,1228.0 L1355.5,1223.7 L1357.7,1229.8 L1359.9,1229.0 L1362.1,1233.8 L1364.3,1229.4 L1364.7,1232.3 L1366.5,1229.8 L1368.7,1228.9 L1370.9,1232.0 L1373.1,1226.9 L1375.3,1229.3 L1377.5,1229.3 L1379.7,1228.4 L1381.9,1227.8 L1383.2,1228.4 L1386.3,1221.5 L1388.5,1221.0 L1390.6,1216.1 L1392.9,1214.5 L1395.1,1213.6 L1397.3,1212.6 L1399.5,1212.3 L1400.8,1212.2 L1403.9,1220.3 L1405.4,1224.8 L1408.3,1225.3 L1410.5,1229.7 L1412.7,1230.4 L1414.9,1232.6 L1417.1,1234.2 L1418.4,1234.0 L1421.5,1234.7 L1423.7,1235.5 L1425.9,1237.8 L1428.1,1235.1 L1430.3,1238.5 L1432.5,1238.2 L1434.7,1235.6 L1436.9,1236.9 L1439.1,1238.8 L1441.3,1234.1 L1443.5,1235.0 L1445.7,1238.4 L1447.9,1238.4 L1448.0,1235.5 L1450.1,1235.0 L1452.3,1237.9 L1454.5,1239.3 L1456.7,1235.9 L1458.9,1235.1 L1461.1,1239.0 L1463.3,1238.4 L1465.5,1234.5 L1467.7,1235.1 L1469.9,1236.3 L1472.1,1238.7 L1474.3,1238.2 L1476.5,1236.8 L1478.7,1233.2 L1480.9,1241.6 L1483.1,1235.3 L1485.0,1240.0 L1487.5,1239.5 L1489.7,1234.8 L1491.9,1236.8 L1494.1,1234.1 L1496.3,1233.2 L1498.5,1233.3 L1500.7,1229.1 L1502.9,1234.3 L1505.1,1231.6 L1507.3,1236.8 L1509.5,1238.8 L1511.7,1230.8 L1513.9,1230.4 L1516.1,1234.3 L1518.3,1233.2 L1520.5,1231.8 L1522.7,1231.8 L1524.9,1232.7 L1527.1,1230.6 L1529.3,1232.7 L1531.0,1233.8 L1533.7,1234.0 L1535.9,1235.2 L1538.1,1232.1 L1540.3,1232.6 L1542.5,1228.1 L1544.7,1231.3 L1546.9,1229.8 L1549.1,1234.4 L1551.3,1235.9 L1553.5,1231.3 L1555.7,1231.3 L1557.9,1231.1 L1560.1,1232.1 L1562.3,1230.6 L1564.5,1234.3 L1566.7,1232.0 L1568.9,1236.0 L1571.1,1234.4 L1573.3,1232.1 L1575.5,1231.7 L1577.4,1234.8 L1579.9,1232.4 L1582.1,1230.0 L1584.3,1233.1 L1586.5,1232.2 L1588.7,1238.3 L1590.9,1234.2 L1593.1,1233.4 L1595.3,1230.3 L1597.5,1237.4 L1599.7,1236.3 L1601.9,1235.4 L1604.1,1235.2 L1606.3,1236.3 L1608.5,1235.5 L1610.7,1236.7 L1612.9,1235.6 L1614.4,1237.1 L1617.3,1232.0 L1619.5,1234.8 L1621.7,1234.8 L1623.9,1233.8 L1626.1,1234.5 L1628.3,1236.0 L1630.5,1233.9 L1632.7,1231.0 L1634.9,1234.1 L1637.1,1235.0 L1639.3,1234.7 L1641.5,1233.8 L1643.7,1234.3 L1645.0,1231.9 L1647.7,1232.0 L1650.3,1224.6 L1650.5,1224.0 L1652.0,1195.0 L1653.6,1000.0 L1654.7,842.9 L1655.0,800.0 L1656.0,706.5 L1657.0,790.0 L1658.0,1000.0 L1659.1,1082.5 L1660.0,1150.0 L1661.3,1184.3 L1662.5,1216.0 L1663.5,1221.4 L1665.7,1233.4 L1666.0,1235.0 L1667.9,1235.8 L1668.0,1236.0 L1670.1,1236.7 L1672.3,1236.9 L1674.5,1237.6 L1676.7,1242.6 L1678.9,1242.0 L1679.0,1241.0 L1681.1,1244.2 L1683.3,1242.8 L1685.5,1240.9 L1687.7,1241.2 L1689.9,1243.3 L1692.1,1242.6 L1694.3,1244.6 L1696.5,1242.0 L1698.7,1241.9 L1700.9,1244.3 L1703.1,1246.2 L1705.3,1244.3 L1707.5,1249.9 L1709.7,1249.6 L1711.9,1245.8 L1712.4,1244.5 L1714.1,1246.4 L1716.3,1245.0 L1718.5,1245.7 L1720.7,1246.5 L1722.9,1245.7 L1725.1,1242.3 L1727.3,1248.8 L1729.5,1244.0 L1731.7,1245.1 L1733.9,1246.5 L1736.1,1243.1 L1738.3,1245.4 L1740.5,1245.9 L1742.7,1242.9 L1744.9,1245.5 L1747.1,1246.4 L1749.3,1244.3 L1751.5,1246.8 L1753.7,1250.9 L1755.9,1244.1 L1758.1,1246.1 L1760.3,1244.7 L1762.5,1246.3 L1764.7,1243.6 L1766.9,1241.4 L1769.1,1245.6 L1771.3,1245.1 L1773.5,1244.5 L1775.7,1242.1 L1777.9,1244.9 L1780.1,1244.1 L1782.3,1243.5 L1784.5,1241.9 L1786.7,1243.0 L1788.9,1244.1 L1791.1,1241.7 L1793.3,1242.7 L1795.5,1241.6 L1797.7,1244.3 L1799.9,1242.5 L1802.1,1242.5 L1804.3,1244.2 L1806.5,1245.1 L1808.7,1241.5 L1810.8,1244.2 L1813.1,1239.7 L1815.3,1239.9 L1817.5,1245.2 L1819.7,1241.7 L1821.9,1244.0 L1824.1,1242.3 L1826.3,1242.1 L1828.5,1243.6 L1830.7,1240.8 L1832.9,1239.1 L1835.1,1242.9 L1837.3,1240.3 L1839.5,1242.3 L1841.7,1236.9 L1843.9,1241.1 L1846.1,1240.5 L1848.3,1239.8 L1850.5,1240.1 L1852.7,1242.0 L1854.9,1240.9 L1857.1,1242.1 L1859.3,1239.4 L1861.5,1239.6 L1863.7,1238.6 L1865.9,1239.1 L1868.1,1240.5 L1870.3,1240.4 L1872.5,1241.3 L1874.7,1242.3 L1876.9,1241.4 L1879.1,1240.0 L1881.3,1238.8 L1883.5,1243.0 L1885.7,1241.2 L1887.9,1235.1 L1890.1,1240.4 L1892.3,1241.8 L1894.5,1239.2 L1896.7,1240.7 L1898.9,1239.7 L1900.0,1240.5 L1901.1,1239.3 L1903.3,1239.6 L1905.5,1238.1 L1907.7,1238.2 L1909.0,1236.0 L1912.1,1239.1 L1914.3,1238.5 L1916.5,1237.2 L1918.0,1241.1 L1920.9,1241.2 L1923.1,1239.4 L1925.3,1243.5 L1927.5,1240.5 L1929.7,1242.5 L1931.9,1240.8 L1934.1,1241.8 L1936.3,1242.3 L1938.5,1243.4 L1940.7,1240.7 L1942.9,1239.7 L1945.1,1244.8 L1947.3,1242.2 L1949.5,1246.1 L1951.7,1242.1 L1953.9,1239.8 L1956.1,1243.1 L1958.3,1243.8 L1960.5,1243.2 L1962.7,1242.0 L1964.9,1243.6 L1967.1,1240.7 L1969.3,1240.6 L1971.5,1242.9 L1973.7,1244.4 L1975.9,1239.3 L1978.1,1243.9 L1980.3,1242.8 L1982.5,1242.0 L1984.7,1243.9 L1986.9,1243.6 L1989.1,1246.4 L1991.3,1245.1 L1993.5,1244.9 L1995.7,1246.0 L1997.9,1246.0 L2000.1,1243.2 L2002.3,1244.3 L2004.5,1240.9 L2006.7,1243.6 L2007.5,1242.0 L2008.9,1243.4 L2011.1,1244.1 L2013.3,1245.1 L2015.5,1243.5 L2017.7,1248.4 L2019.9,1244.4 L2022.1,1241.5 L2024.3,1247.4 L2026.5,1243.7 L2028.7,1243.5 L2030.9,1245.3 L2033.1,1242.9 L2035.3,1246.5 L2037.5,1247.2 L2039.7,1249.4 L2041.9,1244.2 L2044.1,1243.0 L2046.3,1245.0 L2048.5,1245.4 L2050.7,1244.6 L2052.9,1244.2 L2055.1,1246.1 L2057.3,1243.7 L2059.5,1241.5 L2061.7,1241.1 L2063.9,1244.1 L2066.1,1246.2 L2068.3,1243.5 L2070.5,1242.9 L2072.7,1244.1 L2074.9,1245.2 L2077.1,1240.6 L2079.3,1241.8 L2081.5,1245.6 L2083.7,1242.5 L2085.9,1242.8 L2088.1,1245.3 L2090.3,1245.0 L2092.5,1243.5 L2094.7,1245.0 L2096.9,1239.2 L2099.1,1240.8 L2101.3,1242.6 L2103.5,1240.7 L2105.7,1241.2 L2107.9,1240.8 L2110.1,1242.5 L2110.5,1240.9"/>
<path stroke="#FF0000" d="M189.5,1374.6 L191.7,1371.3 L193.9,1372.0 L196.1,1372.5 L198.3,1370.7 L200.5,1371.9 L202.7,1371.8 L204.9,1369.1 L207.1,1373.3 L209.3,1372.6 L211.5,1370.7 L213.7,1371.4 L215.9,1372.4 L218.1,1371.2 L220.3,1371.2 L222.5,1369.3 L224.7,1372.4 L226.9,1371.7 L229.1,1371.9 L231.3,1369.1 L233.5,1373.9 L235.7,1371.6 L237.9,1370.7 L240.1,1374.4 L242.3,1371.2 L244.5,1369.0 L246.7,1370.6 L248.9,1367.6 L251.1,1372.8 L253.3,1367.6 L255.5,1369.9 L257.7,1372.7 L259.9,1368.5 L262.1,1371.8 L264.3,1367.8 L266.5,1369.9 L268.7,1369.0 L270.9,1373.1 L273.1,1373.6 L275.3,1370.3 L277.5,1372.1 L279.7,1370.5 L281.9,1374.6 L284.1,1369.5 L286.3,1368.0 L288.5,1367.8 L290.7,1371.2 L292.9,1374.1 L295.1,1371.0 L297.3,1369.7 L299.5,1373.5 L301.7,1370.8 L303.9,1370.6 L306.1,1370.8 L308.3,1370.1 L310.5,1369.8 L312.7,1368.1 L314.9,1371.0 L317.1,1370.1 L319.3,1372.1 L321.5,1369.6 L323.7,1367.2 L325.9,1370.0 L328.1,1370.5 L330.3,1369.5 L332.5,1368.6 L334.0,1368.1 L336.9,1368.3 L339.1,1369.5 L341.3,1368.1 L343.5,1372.2 L345.7,1369.4 L347.9,1370.0 L350.1,1372.1 L352.3,1372.2 L354.5,1369.4 L356.7,1370.3 L358.9,1370.9 L361.1,1369.4 L363.3,1366.9 L365.5,1370.7 L367.7,1371.0 L369.9,1370.3 L372.1,1368.1 L374.3,1369.3 L376.5,1368.6 L378.7,1369.0 L380.9,1371.5 L383.1,1371.9 L385.3,1370.5 L387.5,1370.3 L389.7,1370.5 L391.9,1369.4 L394.1,1369.2 L396.3,1368.3 L398.5,1369.2 L400.7,1372.8 L402.9,1370.6 L405.1,1368.7 L407.3,1368.5 L409.5,1367.8 L411.7,1369.8 L413.9,1369.8 L416.1,1366.8 L418.3,1369.9 L420.5,1368.2 L422.7,1371.3 L424.9,1369.3 L427.1,1371.7 L429.3,1368.2 L431.5,1371.0 L433.7,1369.4 L435.9,1370.6 L438.1,1369.8 L440.3,1366.9 L442.5,1369.1 L444.7,1368.8 L446.9,1366.5 L449.1,1367.7 L451.3,1371.5 L453.5,1368.1 L455.7,1367.3 L457.9,1372.5 L460.1,1368.8 L462.3,1368.5 L464.5,1369.8 L466.7,1369.3 L468.9,1369.1 L471.1,1370.0 L473.3,1368.9 L475.5,1367.5 L477.7,1367.9 L479.9,1367.6 L482.0,1368.7 L484.3,1366.6 L486.5,1365.3 L488.7,1368.2 L490.9,1365.8 L493.1,1364.7 L495.3,1368.3 L497.5,1366.5 L499.7,1368.3 L501.9,1366.6 L504.1,1365.5 L506.3,1365.2 L508.5,1366.2 L510.7,1366.5 L512.9,1365.5 L515.1,1366.3 L517.3,1364.2 L519.5,1366.5 L521.7,1363.5 L523.9,1366.0 L526.1,1367.3 L528.3,1370.8 L530.5,1368.8 L532.7,1363.3 L534.9,1367.0 L537.1,1367.6 L539.3,1367.1 L541.5,1363.9 L543.7,1364.1 L545.9,1368.2 L548.1,1362.6 L550.3,1365.8 L552.5,1366.7 L554.7,1363.6 L556.0,1365.7 L559.1,1363.0 L561.3,1363.5 L563.5,1363.6 L565.7,1365.3 L567.9,1364.9 L570.1,1366.6 L572.3,1363.6 L574.5,1365.0 L576.7,1366.8 L578.9,1366.2 L581.1,1363.2 L583.3,1366.5 L585.5,1364.7 L587.7,1366.1 L589.9,1366.1 L592.1,1367.6 L594.3,1365.9 L596.5,1362.7 L598.7,1363.6 L600.9,1367.0 L603.1,1365.5 L605.3,1367.8 L607.5,1366.5 L609.7,1364.9 L611.9,1367.9 L614.1,1364.9 L616.3,1362.9 L618.5,1369.6 L620.7,1363.3 L622.9,1367.4 L625.1,1368.0 L627.3,1366.8 L629.5,1363.9 L630.0,1368.2 L631.7,1364.5 L633.9,1364.8 L636.1,1366.6 L638.3,1368.7 L640.5,1368.1 L642.7,1369.1 L644.9,1367.4 L647.1,1368.0 L649.3,1366.7 L651.5,1368.2 L653.7,1369.9 L655.9,1370.4 L658.1,1370.1 L660.3,1368.7 L662.5,1368.9 L664.7,1370.1 L666.9,1369.9 L669.1,1371.4 L671.3,1370.9 L673.5,1373.6 L675.7,1370.7 L677.9,1371.0 L680.1,1369.9 L682.3,1371.8 L684.5,1373.0 L685.0,1370.9 L686.7,1372.2 L688.9,1373.6 L691.1,1372.6 L693.3,1372.3 L695.5,1374.9 L697.7,1373.9 L699.9,1374.6 L702.1,1376.0 L704.3,1376.3 L706.5,1376.4 L708.7,1374.4 L710.9,1375.9 L713.1,1375.6 L715.3,1373.3 L717.5,1378.2 L719.7,1376.7 L721.9,1378.0 L724.1,1375.6 L726.3,1379.4 L728.5,1377.0 L730.7,1378.0 L732.9,1376.5 L735.1,1378.5 L737.3,1378.7 L739.5,1379.1 L740.7,1380.1 L741.7,1379.6 L743.9,1381.0 L746.1,1379.1 L748.3,1378.5 L750.5,1380.0 L752.7,1381.0 L754.9,1381.9 L757.1,1381.5 L759.3,1378.0 L761.5,1381.1 L763.7,1382.7 L765.9,1380.8 L768.1,1380.2 L770.3,1381.4 L772.5,1380.4 L774.7,1382.1 L776.9,1381.3 L779.1,1383.3 L781.3,1382.2 L783.5,1380.6 L785.7,1382.6 L787.9,1383.1 L790.1,1381.2 L792.3,1381.5 L794.5,1379.0 L796.7,1383.5 L798.9,1381.6 L801.1,1379.6 L803.3,1380.2 L805.5,1382.4 L807.7,1381.3 L809.9,1382.8 L812.1,1383.7 L814.3,1381.7 L814.7,1381.4 L816.5,1384.5 L818.7,1384.1 L820.9,1383.5 L823.1,1385.3 L825.3,1382.5 L827.5,1383.3 L829.7,1385.3 L831.9,1386.5 L834.1,1384.2 L836.3,1386.5 L838.5,1383.6 L840.7,1384.9 L842.9,1384.4 L845.1,1382.6 L847.3,1385.2 L849.5,1386.2 L851.7,1384.9 L853.9,1385.1 L856.1,1387.1 L858.3,1383.7 L860.5,1383.5 L862.7,1384.7 L864.9,1384.2 L867.1,1387.6 L869.3,1386.3 L871.5,1384.9 L873.7,1385.4 L875.9,1390.0 L878.1,1385.6 L880.3,1385.5 L882.5,1387.0 L884.7,1387.5 L886.9,1387.1 L888.7,1385.7 L891.3,1385.4 L893.5,1387.7 L895.7,1386.9 L897.9,1384.9 L900.1,1388.5 L902.3,1388.0 L904.5,1386.8 L906.7,1386.8 L908.9,1387.4 L911.1,1386.3 L913.3,1385.5 L915.5,1387.6 L917.7,1385.4 L919.9,1387.7 L922.1,1385.4 L924.3,1387.2 L926.5,1387.2 L928.7,1389.6 L930.9,1386.0 L933.1,1385.6 L935.3,1386.6 L937.5,1386.0 L939.7,1386.7 L941.9,1388.0 L944.1,1388.5 L946.3,1389.7 L948.5,1386.6 L950.7,1390.9 L952.9,1390.1 L955.1,1387.4 L957.3,1384.8 L959.5,1387.6 L961.7,1387.8 L963.9,1384.8 L966.1,1387.9 L968.3,1387.5 L970.5,1386.8 L972.7,1388.6 L974.9,1389.1 L977.1,1387.3 L979.3,1388.2 L981.5,1387.1 L983.7,1387.0 L985.9,1388.1 L986.0,1388.7 L988.1,1387.3 L990.3,1385.2 L992.5,1388.7 L994.7,1386.0 L996.9,1388.2 L999.1,1390.2 L1001.3,1385.9 L1003.5,1386.5 L1005.7,1386.2 L1007.9,1389.5 L1010.1,1388.0 L1012.3,1390.5 L1014.5,1389.2 L1016.7,1387.9 L1018.9,1387.6 L1021.1,1386.8 L1023.3,1384.1 L1025.5,1386.1 L1027.7,1387.9 L1029.9,1389.5 L1032.1,1388.5 L1034.3,1387.8 L1036.5,1388.2 L1038.7,1389.0 L1040.9,1386.9 L1043.1,1387.6 L1045.3,1386.0 L1047.5,1389.2 L1049.7,1388.0 L1051.9,1388.6 L1054.1,1389.9 L1056.3,1391.7 L1058.5,1387.9 L1060.7,1389.0 L1062.9,1386.2 L1065.1,1388.5 L1067.3,1388.2 L1069.5,1386.0 L1071.7,1389.7 L1073.9,1387.1 L1076.1,1388.9 L1078.3,1387.5 L1080.5,1389.3 L1082.7,1391.0 L1084.9,1387.0 L1087.1,1386.1 L1089.3,1387.8 L1091.5,1389.1 L1093.7,1387.5 L1095.9,1387.2 L1098.1,1388.6 L1100.3,1384.5 L1102.5,1387.2 L1104.7,1386.3 L1106.9,1388.4 L1109.1,1387.1 L1111.3,1386.6 L1113.5,1387.6 L1115.7,1386.2 L1117.9,1390.0 L1120.1,1387.1 L1122.3,1387.5 L1124.5,1387.1 L1126.7,1389.1 L1128.9,1387.9 L1131.1,1388.7 L1133.3,1387.3 L1135.5,1387.0 L1137.7,1388.7 L1139.9,1388.4 L1142.1,1388.4 L1144.3,1387.5 L1146.5,1387.5 L1148.7,1389.0 L1150.9,1390.7 L1153.1,1387.0 L1155.3,1388.7 L1157.5,1387.5 L1159.7,1389.0 L1161.9,1388.6 L1164.1,1391.2 L1166.3,1384.5 L1168.5,1387.2 L1170.7,1386.8 L1172.9,1387.9 L1175.1,1387.1 L1177.3,1387.2 L1179.5,1388.9 L1181.7,1390.4 L1183.9,1384.4 L1186.1,1387.6 L1188.3,1388.4 L1190.5,1388.0 L1192.7,1389.8 L1194.9,1386.3 L1197.1,1386.8 L1199.3,1388.9 L1200.0,1389.4 L1201.5,1388.1 L1203.7,1386.9 L1205.9,1388.1 L1208.1,1389.4 L1210.3,1388.7 L1212.5,1388.1 L1214.7,1387.2 L1216.9,1388.2 L1219.1,1386.5 L1221.3,1389.0 L1223.5,1389.5 L1225.7,1386.5 L1227.9,1388.5 L1230.1,1386.8 L1232.3,1389.3 L1234.5,1389.1 L1236.7,1387.7 L1238.9,1389.3 L1241.1,1387.5 L1243.3,1387.2 L1245.5,1387.3 L1247.7,1390.0 L1249.9,1387.6 L1252.1,1388.2 L1254.3,1387.2 L1256.5,1389.0 L1258.7,1389.3 L1260.9,1387.4 L1263.1,1386.2 L1265.3,1388.9 L1267.5,1389.4 L1269.7,1387.8 L1271.9,1386.4 L1274.1,1388.3 L1276.3,1389.9 L1278.5,1385.6 L1280.7,1388.6 L1282.9,1387.6 L1285.1,1386.9 L1287.3,1388.6 L1289.5,1386.4 L1291.7,1388.4 L1293.9,1389.7 L1296.1,1388.2 L1298.3,1386.9 L1300.5,1385.8 L1302.7,1386.4 L1304.9,1385.7 L1307.1,1390.0 L1309.3,1387.7 L1311.5,1386.7 L1313.7,1386.4 L1315.9,1386.7 L1318.1,1387.6 L1320.3,1386.4 L1322.5,1390.1 L1324.7,1387.1 L1326.9,1387.0 L1329.1,1388.4 L1331.3,1389.8 L1333.5,1389.7 L1335.7,1387.4 L1337.9,1388.3 L1340.1,1390.4 L1342.3,1388.7 L1344.5,1388.3 L1346.7,1386.8 L1348.9,1386.4 L1351.1,1388.2 L1353.3,1386.5 L1355.5,1389.7 L1357.7,1388.1 L1359.9,1386.7 L1362.1,1387.6 L1364.3,1387.4 L1366.5,1387.8 L1368.7,1389.2 L1370.9,1386.2 L1373.1,1385.6 L1375.3,1388.4 L1377.5,1387.8 L1379.7,1388.2 L1381.9,1388.6 L1384.1,1387.8 L1386.3,1389.0 L1388.5,1386.9 L1390.7,1388.1 L1392.9,1387.0 L1395.1,1386.6 L1397.3,1388.8 L1399.5,1390.0 L1400.0,1385.6 L1401.7,1386.6 L1403.9,1388.4 L1406.1,1389.3 L1408.3,1387.1 L1410.5,1387.7 L1412.7,1386.2 L1414.9,1391.1 L1417.1,1388.6 L1419.3,1389.1 L1421.5,1388.8 L1423.7,1389.1 L1425.9,1388.7 L1428.1,1387.5 L1430.3,1388.9 L1432.5,1388.0 L1434.7,1389.6 L1436.9,1387.0 L1439.1,1387.2 L1441.3,1388.7 L1443.5,1391.2 L1445.7,1388.1 L1447.9,1387.0 L1450.1,1387.7 L1452.3,1387.3 L1454.5,1390.3 L1456.7,1389.0 L1458.9,1389.5 L1461.1,1388.2 L1463.3,1387.2 L1465.5,1389.3 L1467.7,1389.9 L1469.9,1388.6 L1472.1,1385.5 L1474.3,1389.2 L1476.5,1387.4 L1478.7,1388.8 L1480.9,1386.9 L1483.1,1386.6 L1485.3,1388.5 L1487.5,1388.2 L1489.7,1390.2 L1491.9,1387.4 L1494.1,1387.8 L1496.3,1386.3 L1498.5,1385.4 L1500.7,1383.2 L1502.9,1388.4 L1505.1,1386.3 L1507.3,1389.2 L1509.5,1389.5 L1511.7,1387.4 L1513.9,1389.8 L1516.1,1388.0 L1518.3,1389.2 L1520.5,1387.4 L1522.7,1388.9 L1524.9,1386.5 L1527.1,1388.5 L1529.3,1387.1 L1531.5,1387.5 L1533.7,1388.5 L1535.9,1387.9 L1538.1,1387.6 L1540.3,1388.6 L1542.5,1388.7 L1544.7,1385.9 L1546.9,1388.4 L1549.1,1388.5 L1551.3,1386.7 L1553.5,1388.1 L1555.7,1386.0 L1557.9,1389.5 L1560.1,1387.3 L1562.3,1387.5 L1564.5,1389.1 L1566.7,1387.4 L1568.9,1388.4 L1571.1,1386.3 L1573.3,1386.9 L1575.5,1385.8 L1577.7,1387.3 L1579.9,1388.9 L1582.1,1387.9 L1584.3,1388.7 L1586.5,1386.3 L1588.7,1386.5 L1590.9,1387.0 L1593.1,1388.3 L1595.3,1388.0 L1597.5,1387.5 L1599.7,1388.3 L1601.9,1387.3 L1604.1,1387.5 L1606.3,1389.2 L1608.5,1386.8 L1610.7,1387.8 L1612.9,1389.6 L1615.1,1390.2 L1617.3,1388.4 L1619.5,1386.7 L1620.0,1390.0 L1621.7,1384.2 L1623.9,1384.9 L1626.1,1386.4 L1628.3,1387.1 L1630.0,1385.0 L1630.5,1384.1 L1631.0,1382.7 L1631.5,1384.6 L1632.0,1384.2 L1632.5,1383.0 L1632.7,1381.9 L1633.0,1382.3 L1633.5,1383.9 L1634.0,1383.8 L1634.5,1383.4 L1634.9,1383.0 L1635.0,1380.9 L1635.5,1383.1 L1636.0,1381.6 L1636.5,1381.8 L1637.0,1381.3 L1637.1,1379.6 L1637.5,1378.3 L1638.0,1379.8 L1638.5,1377.9 L1639.0,1375.6 L1639.3,1373.7 L1639.5,1375.3 L1640.0,1376.7 L1640.5,1374.6 L1641.0,1371.2 L1641.5,1370.2 L1642.0,1369.4 L1642.5,1369.9 L1643.0,1366.3 L1643.5,1366.6 L1643.7,1364.5 L1644.0,1364.4 L1644.5,1359.4 L1645.0,1359.2 L1645.5,1355.4 L1645.9,1353.6 L1646.0,1354.0 L1646.5,1352.1 L1647.0,1345.9 L1647.5,1346.6 L1648.0,1343.3 L1648.1,1341.7 L1648.5,1341.7 L1649.0,1332.8 L1649.5,1325.6 L1650.0,1314.6 L1650.3,1309.0 L1650.5,1308.2 L1651.0,1300.8 L1651.5,1282.8 L1652.0,1267.0 L1652.5,1249.3 L1653.0,1227.3 L1653.5,1204.6 L1654.0,1182.6 L1654.5,1145.2 L1654.7,1119.0 L1655.0,1075.4 L1655.5,1008.3 L1656.0,973.2 L1656.5,948.9 L1656.9,932.6 L1657.0,930.4 L1657.5,895.8 L1658.0,861.5 L1658.5,823.0 L1659.0,734.8 L1659.1,721.8 L1659.5,653.8 L1660.0,608.3 L1660.5,655.8 L1661.0,736.5 L1661.3,788.6 L1661.5,825.6 L1662.0,863.3 L1662.5,893.8 L1663.0,926.7 L1663.5,951.6 L1664.0,971.1 L1664.5,1005.4 L1665.0,1077.2 L1665.5,1148.2 L1665.7,1169.0 L1666.0,1180.4 L1666.5,1203.3 L1667.0,1231.8 L1667.5,1250.2 L1667.9,1262.6 L1668.0,1264.8 L1668.5,1281.0 L1669.0,1300.2 L1669.5,1306.6 L1670.0,1314.9 L1670.1,1314.3 L1670.5,1326.2 L1671.0,1332.1 L1671.5,1341.0 L1672.0,1343.3 L1672.3,1344.9 L1672.5,1344.5 L1673.0,1349.1 L1673.5,1353.0 L1674.0,1353.6 L1674.5,1355.2 L1675.0,1357.4 L1675.5,1362.0 L1676.0,1364.1 L1676.5,1367.0 L1676.7,1367.6 L1677.0,1366.4 L1677.5,1370.3 L1678.0,1368.7 L1678.5,1371.4 L1678.9,1372.6 L1679.0,1373.7 L1679.5,1373.7 L1680.0,1373.7 L1680.5,1377.3 L1681.0,1378.7 L1681.1,1376.2 L1681.5,1376.1 L1682.0,1379.1 L1682.5,1378.9 L1683.0,1380.6 L1683.3,1382.5 L1683.5,1382.4 L1684.0,1384.7 L1684.5,1384.0 L1685.0,1385.2 L1685.5,1383.5 L1686.0,1383.5 L1686.5,1385.1 L1687.0,1384.4 L1687.5,1384.0 L1687.7,1385.7 L1688.0,1384.8 L1688.5,1384.3 L1689.0,1383.1 L1689.5,1385.7 L1689.9,1385.6 L1692.1,1386.1 L1694.3,1386.2 L1696.5,1386.4 L1698.7,1387.8 L1700.0,1388.8 L1703.1,1388.4 L1705.3,1388.5 L1707.5,1388.2 L1709.7,1389.3 L1711.9,1389.2 L1714.1,1388.1 L1716.3,1390.0 L1718.5,1390.1 L1720.7,1390.2 L1722.9,1389.1 L1725.1,1389.1 L1727.3,1388.0 L1729.5,1390.5 L1731.7,1387.0 L1733.9,1389.2 L1736.1,1389.4 L1737.0,1390.8 L1738.3,1389.7 L1740.5,1388.4 L1742.7,1387.7 L1744.9,1388.5 L1747.1,1389.4 L1749.3,1389.2 L1751.5,1388.7 L1753.7,1388.0 L1755.9,1388.5 L1758.1,1389.8 L1760.3,1387.1 L1762.5,1388.4 L1764.7,1390.2 L1766.9,1388.8 L1769.1,1386.9 L1771.3,1387.7 L1773.5,1385.2 L1775.7,1385.5 L1776.8,1387.1 L1777.3,1387.4 L1777.8,1382.7 L1777.9,1385.7 L1778.3,1387.2 L1778.8,1383.9 L1779.3,1384.7 L1779.8,1386.2 L1780.1,1383.5 L1780.3,1384.7 L1780.8,1383.9 L1781.3,1381.3 L1781.8,1384.1 L1782.3,1381.0 L1782.8,1384.0 L1783.3,1384.6 L1783.8,1381.9 L1784.3,1379.6 L1784.5,1380.3 L1784.8,1379.4 L1785.3,1379.6 L1785.8,1375.5 L1786.0,1375.5 L1786.3,1372.1 L1786.7,1376.5 L1786.8,1375.5 L1787.3,1373.8 L1787.8,1372.8 L1788.3,1372.1 L1788.8,1370.8 L1788.9,1371.4 L1789.3,1370.5 L1789.8,1371.5 L1790.3,1368.0 L1790.8,1362.2 L1791.1,1363.3 L1791.3,1364.7 L1791.8,1361.5 L1792.3,1359.1 L1792.8,1357.4 L1793.3,1356.3 L1793.8,1350.6 L1794.3,1349.0 L1794.8,1342.3 L1795.3,1336.0 L1795.5,1334.1 L1795.8,1329.4 L1796.3,1322.2 L1796.8,1316.4 L1797.3,1302.0 L1797.7,1291.0 L1797.8,1290.6 L1798.3,1274.4 L1798.8,1255.1 L1799.3,1240.2 L1799.8,1216.6 L1799.9,1212.4 L1800.3,1172.2 L1800.8,1115.6 L1801.3,1069.9 L1801.8,1052.0 L1802.1,1041.0 L1802.3,1032.8 L1802.8,1007.0 L1803.3,982.2 L1803.8,956.7 L1804.3,886.2 L1804.8,816.6 L1805.3,777.1 L1805.8,816.4 L1806.3,884.8 L1806.5,912.0 L1806.8,954.4 L1807.3,982.0 L1807.8,1008.7 L1808.3,1034.2 L1808.7,1049.9 L1808.8,1051.1 L1809.3,1068.6 L1809.8,1114.9 L1810.3,1172.4 L1810.8,1218.0 L1810.9,1221.1 L1811.3,1237.5 L1811.8,1257.1 L1812.3,1276.1 L1812.8,1289.3 L1813.1,1296.9 L1813.3,1301.4 L1813.8,1317.8 L1814.3,1324.6 L1814.8,1329.2 L1815.3,1336.3 L1815.8,1343.8 L1816.3,1350.1 L1816.8,1353.8 L1817.3,1355.7 L1817.5,1356.7 L1817.8,1358.0 L1818.3,1360.3 L1818.8,1362.0 L1819.3,1363.9 L1819.7,1364.9 L1819.8,1363.3 L1820.3,1367.5 L1820.8,1372.2 L1821.3,1370.6 L1821.8,1371.4 L1821.9,1373.6 L1822.3,1373.2 L1822.8,1373.3 L1823.3,1375.6 L1823.8,1376.5 L1824.1,1377.2 L1824.3,1375.9 L1824.8,1378.2 L1825.3,1378.9 L1825.8,1380.3 L1826.3,1381.7 L1826.8,1382.5 L1827.3,1384.3 L1827.8,1383.8 L1828.3,1382.0 L1828.5,1384.4 L1828.8,1384.5 L1829.3,1383.2 L1829.8,1382.9 L1830.3,1383.9 L1830.7,1382.6 L1830.8,1384.6 L1831.3,1384.6 L1831.8,1383.2 L1832.3,1384.6 L1832.8,1386.0 L1832.9,1386.0 L1833.3,1386.0 L1835.1,1385.0 L1837.3,1385.4 L1839.5,1385.8 L1841.7,1387.7 L1843.9,1390.3 L1846.1,1389.1 L1848.3,1389.4 L1850.5,1389.1 L1852.7,1385.3 L1854.9,1387.1 L1857.1,1386.8 L1859.3,1389.0 L1860.0,1390.9 L1861.5,1386.6 L1863.7,1387.5 L1865.9,1388.2 L1868.1,1385.9 L1870.3,1384.6 L1872.5,1383.4 L1874.7,1382.1 L1876.3,1381.2 L1876.8,1383.6 L1876.9,1382.2 L1877.3,1382.8 L1877.8,1383.6 L1878.3,1380.5 L1878.8,1380.1 L1879.1,1381.5 L1879.3,1379.5 L1879.8,1379.7 L1880.3,1380.2 L1880.8,1380.3 L1881.3,1378.2 L1881.8,1379.1 L1882.3,1380.0 L1882.8,1379.2 L1883.3,1373.1 L1883.5,1376.5 L1883.8,1374.9 L1884.3,1370.5 L1884.8,1368.2 L1885.3,1368.7 L1885.7,1366.2 L1885.8,1366.5 L1886.3,1365.6 L1886.8,1362.2 L1887.3,1361.0 L1887.8,1359.5 L1887.9,1359.7 L1888.3,1359.3 L1888.8,1357.4 L1889.3,1353.7 L1889.8,1351.2 L1890.1,1351.7 L1890.3,1347.7 L1890.8,1342.9 L1891.3,1336.3 L1891.8,1334.1 L1892.3,1327.6 L1892.8,1323.4 L1893.3,1317.7 L1893.8,1314.1 L1894.3,1310.3 L1894.5,1306.4 L1894.8,1304.5 L1895.3,1292.7 L1895.8,1276.4 L1896.3,1261.7 L1896.7,1250.4 L1896.8,1246.7 L1897.3,1234.4 L1897.8,1204.8 L1898.3,1179.5 L1898.8,1149.9 L1898.9,1143.9 L1899.3,1115.1 L1899.8,1073.1 L1900.3,1030.9 L1900.8,974.9 L1901.1,903.3 L1901.3,856.7 L1901.8,737.5 L1902.3,670.6 L1902.8,635.0 L1903.3,600.6 L1903.8,545.0 L1904.3,484.1 L1904.8,422.9 L1905.3,271.2 L1905.5,216.7 L1905.8,129.2 L1906.3,46.8 L1906.8,129.8 L1907.3,272.9 L1907.7,390.9 L1907.8,418.3 L1908.3,488.1 L1908.8,541.6 L1909.3,598.7 L1909.8,635.7 L1909.9,642.3 L1910.3,672.8 L1910.8,735.1 L1911.3,855.1 L1911.8,975.3 L1912.1,1015.4 L1912.3,1030.6 L1912.8,1073.6 L1913.3,1116.4 L1913.8,1152.3 L1914.3,1178.8 L1914.8,1207.0 L1915.3,1235.0 L1915.8,1250.4 L1916.3,1265.6 L1916.5,1269.0 L1916.8,1277.9 L1917.3,1294.9 L1917.8,1307.8 L1918.3,1312.3 L1918.7,1311.1 L1918.8,1314.7 L1919.3,1315.5 L1919.8,1325.1 L1920.3,1328.9 L1920.8,1333.5 L1920.9,1334.2 L1921.3,1339.7 L1921.8,1342.3 L1922.3,1348.5 L1922.8,1352.5 L1923.1,1353.4 L1923.3,1354.3 L1923.8,1355.7 L1924.3,1356.0 L1924.8,1360.2 L1925.3,1362.0 L1925.8,1362.8 L1926.3,1365.8 L1926.8,1367.9 L1927.3,1367.0 L1927.5,1369.2 L1927.8,1369.9 L1928.3,1371.2 L1928.8,1374.6 L1929.3,1375.0 L1929.7,1377.0 L1929.8,1378.2 L1930.3,1380.2 L1930.8,1380.4 L1931.3,1383.1 L1931.8,1379.9 L1931.9,1380.9 L1932.3,1379.3 L1932.8,1379.6 L1933.3,1382.8 L1933.8,1383.2 L1934.1,1381.0 L1934.3,1381.5 L1934.8,1383.7 L1935.3,1382.3 L1935.8,1383.9 L1938.5,1382.9 L1940.7,1387.0 L1942.9,1387.7 L1945.1,1388.2 L1947.3,1387.3 L1949.5,1388.1 L1951.7,1388.5 L1953.9,1388.6 L1956.1,1388.2 L1958.3,1386.4 L1960.5,1388.6 L1962.7,1390.1 L1964.9,1385.9 L1967.1,1386.7 L1969.3,1386.5 L1971.5,1387.6 L1973.7,1386.3 L1975.9,1389.2 L1978.1,1388.7 L1980.3,1388.3 L1982.5,1387.7 L1983.0,1388.8 L1984.7,1388.9 L1986.9,1389.1 L1989.1,1387.8 L1991.3,1389.6 L1993.5,1387.0 L1995.7,1390.4 L1997.9,1385.1 L2000.1,1388.2 L2002.3,1387.5 L2004.5,1390.0 L2006.7,1387.2 L2008.9,1391.3 L2011.1,1387.2 L2013.3,1391.7 L2015.5,1389.8 L2017.7,1389.3 L2019.9,1389.8 L2022.1,1392.0 L2024.3,1390.5 L2026.5,1386.7 L2028.7,1390.9 L2030.9,1389.8 L2033.1,1387.6 L2035.3,1390.5 L2037.5,1388.1 L2039.7,1389.9 L2041.9,1390.0 L2044.1,1389.0 L2046.3,1390.6 L2048.5,1388.6 L2050.7,1390.1 L2052.9,1389.2 L2055.1,1389.7 L2057.3,1392.3 L2059.5,1390.2 L2061.7,1388.8 L2063.9,1390.0 L2066.1,1389.2 L2068.3,1390.2 L2070.5,1390.4 L2072.7,1390.4 L2074.9,1390.4 L2077.1,1389.7 L2079.3,1391.0 L2081.5,1391.7 L2083.7,1389.7 L2085.9,1390.5 L2088.1,1390.7 L2090.3,1392.1 L2092.5,1392.0 L2094.7,1389.8 L2096.9,1390.8 L2099.1,1389.0 L2101.3,1389.7 L2103.5,1390.9 L2105.7,1391.7 L2107.9,1392.1 L2110.1,1390.6 L2110.5,1389.4"/>
</g>
<g fill="#000" shape-rendering="crispEdges">
<rect x="186" y="38" width="1928" height="7"/>
<rect x="186" y="38" width="7" height="1421"/>
<rect x="2107" y="38" width="7" height="1421"/>
<rect x="186" y="1453" width="1928" height="6"/>
</g>
<g fill="none" stroke="#000" stroke-width="7" stroke-linecap="round">
<line x1="189.5" y1="1456" x2="189.5" y2="1483.5"/>
<line x1="464.5" y1="1456" x2="464.5" y2="1483.5"/>
<line x1="738.5" y1="1456" x2="738.5" y2="1483.5"/>
<line x1="1012.5" y1="1456" x2="1012.5" y2="1483.5"/>
<line x1="1287.5" y1="1456" x2="1287.5" y2="1483.5"/>
<line x1="1562.5" y1="1456" x2="1562.5" y2="1483.5"/>
<line x1="1836.5" y1="1456" x2="1836.5" y2="1483.5"/>
<line x1="2110.5" y1="1456" x2="2110.5" y2="1483.5"/>
<line x1="327.5" y1="1456" x2="327.5" y2="1469.5"/>
<line x1="601.5" y1="1456" x2="601.5" y2="1469.5"/>
<line x1="876.5" y1="1456" x2="876.5" y2="1469.5"/>
<line x1="1150.5" y1="1456" x2="1150.5" y2="1469.5"/>
<line x1="1424.5" y1="1456" x2="1424.5" y2="1469.5"/>
<line x1="1699.5" y1="1456" x2="1699.5" y2="1469.5"/>
<line x1="1973.5" y1="1456" x2="1973.5" y2="1469.5"/>
</g>
<text font-size="57.14" transform="translate(173.64,1548.00) scale(1.0000,1)" >5</text>
<text font-size="57.14" transform="translate(431.79,1548.00) scale(1.0000,1)" >10</text>
<text font-size="57.14" transform="translate(705.79,1548.00) scale(1.0000,1)" >15</text>
<text font-size="57.14" transform="translate(980.50,1548.00) scale(1.0000,1)" >20</text>
<text font-size="57.14" transform="translate(1255.50,1548.00) scale(1.0000,1)" >25</text>
<text font-size="57.14" transform="translate(1530.79,1548.00) scale(1.0000,1)" >30</text>
<text font-size="57.14" transform="translate(1804.79,1548.00) scale(1.0000,1)" >35</text>
<text font-size="57.14" transform="translate(2079.21,1548.00) scale(1.0000,1)" >40</text>
<text class="b" font-size="56.01" transform="translate(586.46,140.81) scale(0.9055,1)">(</text>
<text class="b" font-size="59.00" transform="translate(603.70,141.50) scale(0.9325,1)" >020</text>
<text class="b" font-size="56.01" transform="translate(695.55,140.81) scale(0.9055,1)">)</text>
<text class="b" font-size="55.87" transform="translate(771.66,270.71) scale(0.9077,1)">(</text>
<text class="b" font-size="58.86" transform="translate(787.34,271.40) scale(0.9822,1)" >110</text>
<text class="b" font-size="55.87" transform="translate(880.55,270.71) scale(0.9077,1)">)</text>
<text class="b" font-size="53.97" transform="translate(1224.46,409.93) scale(0.9396,1)">(</text>
<text class="b" font-size="56.86" transform="translate(1240.33,410.60) scale(0.9659,1)" >121</text>
<text class="b" font-size="53.97" transform="translate(1332.85,409.93) scale(0.9396,1)">)</text>
<text class="b" font-size="55.74" transform="translate(1351.36,444.31) scale(0.9099,1)">(</text>
<text class="b" font-size="58.71" transform="translate(1368.63,445.00) scale(0.9241,1)" >040</text>
<text class="b" font-size="55.74" transform="translate(1459.25,444.31) scale(0.9099,1)">)</text>
<text class="b" font-size="56.01" transform="translate(1593.26,604.61) scale(0.9055,1)">(</text>
<text class="b" font-size="59.00" transform="translate(1609.06,605.30) scale(0.9496,1)" >100</text>
<text class="b" font-size="56.01" transform="translate(1702.55,604.61) scale(0.9055,1)">)</text>
<text class="b" font-size="56.14" transform="translate(1747.26,777.70) scale(0.9033,1)">(</text>
<text class="b" font-size="59.14" transform="translate(1764.52,778.40) scale(0.9217,1)" >002</text>
<text class="b" font-size="56.14" transform="translate(1855.55,777.70) scale(0.9033,1)">)</text>
<text class="b" font-size="55.33" transform="translate(1842.36,104.11) scale(0.9166,1)">(</text>
<text class="b" font-size="58.29" transform="translate(1858.25,104.80) scale(0.9379,1)" >101</text>
<text class="b" font-size="55.33" transform="translate(1950.35,104.11) scale(0.9166,1)">)</text>
<text font-size="46.23" transform="translate(971.02,391.00) scale(0.9405,1)" >Neat PHBV</text>
<text font-size="45.80" transform="translate(950.36,511.80) scale(0.9393,1)" >PHBV + 10 wt% OEO</text>
<text font-size="44.49" transform="translate(864.29,710.30) scale(0.9582,1)" >PHBV + 7.5 wt% OEO + 0.75 wt% ZnONPs</text>
<text font-size="45.58" transform="translate(855.49,874.75) scale(0.9355,1)" >PHBV + 5 wt% OEO + 1.5 wt% ZnONPs</text>
<text font-size="43.77" transform="translate(857.28,1032.90) scale(0.9762,1)" >PHBV + 2.5 wt% OEO + 2.25 wt% ZnONPs</text>
<text font-size="46.09" transform="translate(1010.37,1158.40) scale(0.9294,1)" >PHBV + 3 wt% ZnONPs</text>
<text font-size="53.33" transform="translate(1096.25,1367.80) scale(0.9658,1)" >ZnONPs</text>
<text font-size="84.00" transform="translate(981.59,1668.80) scale(1.0256,1)">2</text>
<text class="s" stroke="#000" stroke-width="1" font-size="73.10" transform="translate(1028.47,1668.67) scale(1.1646,1)">θ</text>
<text class="s" font-size="71.32" transform="translate(1087.59,1667.67) scale(1.0008,1)">(</text>
<text font-size="81.24" transform="translate(1111.53,1668.60) scale(1.0063,1)">degrees</text>
<text class="s" font-size="72.11" transform="translate(1408.65,1667.86) scale(0.9494,1)">)</text>
<text font-size="85.22" transform="translate(95.9,1120.8) rotate(-90) translate(-7.36,0.00) scale(0.9595,1)">Intensity</text>
<text class="s" font-size="83.08" transform="translate(95.9,1120.8) rotate(-90) translate(325.94,-1.46) scale(0.8733,1)">(</text>
<text font-size="80.94" transform="translate(95.9,1120.8) rotate(-90) translate(350.10,0.00) scale(1.0150,1)">a.u.</text>
<text class="s" font-size="84.00" transform="translate(95.9,1120.8) rotate(-90) translate(489.57,-1.24) scale(0.8837,1)">)</text>

</svg>
</body></html>
